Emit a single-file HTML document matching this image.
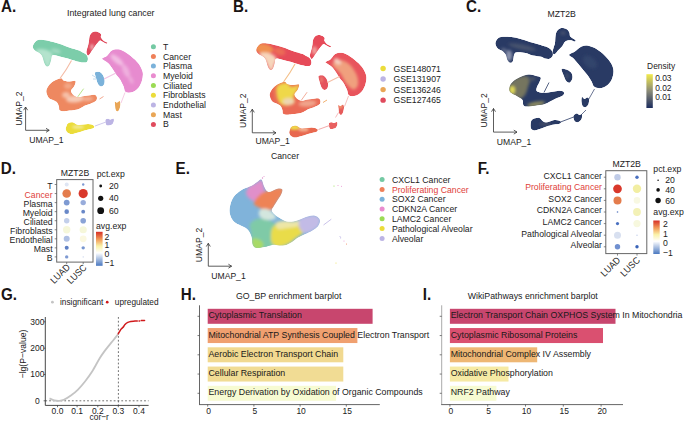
<!DOCTYPE html><html><head><meta charset="utf-8"><style>html,body{margin:0;padding:0;background:#fff;width:685px;height:421px;overflow:hidden}svg{display:block;font-family:"Liberation Sans",sans-serif}</style></head><body>
<svg width="685" height="421" viewBox="0 0 685 421">
<rect width="685" height="421" fill="#fff"/>
<defs><filter id="blur0_5" x="-50%" y="-50%" width="200%" height="200%"><feGaussianBlur stdDeviation="0.5"/></filter><filter id="blur0_8" x="-50%" y="-50%" width="200%" height="200%"><feGaussianBlur stdDeviation="0.8"/></filter><filter id="blur1" x="-50%" y="-50%" width="200%" height="200%"><feGaussianBlur stdDeviation="1"/></filter><filter id="blur1_2" x="-50%" y="-50%" width="200%" height="200%"><feGaussianBlur stdDeviation="1.2"/></filter><filter id="blur1_5" x="-50%" y="-50%" width="200%" height="200%"><feGaussianBlur stdDeviation="1.5"/></filter><filter id="blur1_8" x="-50%" y="-50%" width="200%" height="200%"><feGaussianBlur stdDeviation="1.8"/></filter><filter id="blur2" x="-50%" y="-50%" width="200%" height="200%"><feGaussianBlur stdDeviation="2"/></filter><filter id="blur2_5" x="-50%" y="-50%" width="200%" height="200%"><feGaussianBlur stdDeviation="2.5"/></filter><filter id="blur3" x="-50%" y="-50%" width="200%" height="200%"><feGaussianBlur stdDeviation="3"/></filter></defs>
<text font-size="9.57" fill="#222" transform="translate(67,16.2) scale(0.92,1)">Integrated lung cancer</text>
<clipPath id="aT"><path d="M32.8,46.4 C33.0,44.8 34.6,41.8 36.4,40.7 C38.2,39.6 40.7,39.8 43.5,40.0 C46.3,40.2 50.3,41.2 53.3,42.0 C56.3,42.8 58.8,43.5 61.6,44.5 C64.4,45.5 67.2,46.8 70.0,47.8 C72.8,48.8 76.1,49.5 78.3,50.3 C80.5,51.1 81.9,52.0 83.3,52.8 C84.7,53.6 85.8,54.1 86.6,55.0 C87.4,55.9 87.8,57.3 87.9,58.3 C88.0,59.3 87.9,60.5 87.4,61.2 C86.9,61.9 86.4,62.5 84.9,62.6 C83.4,62.7 80.8,62.3 78.3,61.7 C75.8,61.1 72.8,60.0 70.0,59.2 C67.2,58.4 64.1,57.8 61.6,57.1 C59.1,56.4 56.6,55.5 55.0,55.2 C53.4,54.9 52.7,54.6 52.0,55.5 C51.3,56.4 51.5,58.8 51.0,60.5 C50.5,62.2 50.0,64.6 49.2,65.6 C48.4,66.6 47.2,66.8 46.4,66.3 C45.6,65.8 44.9,64.5 44.2,62.8 C43.5,61.1 42.9,57.6 42.1,56.0 C41.3,54.4 40.5,53.9 39.3,53.0 C38.1,52.1 36.1,51.7 35.0,50.6 C33.9,49.5 32.6,48.0 32.8,46.4Z" transform="translate(0,0)"/></clipPath>
<g clip-path="url(#aT)"><path d="M32.8,46.4 C33.0,44.8 34.6,41.8 36.4,40.7 C38.2,39.6 40.7,39.8 43.5,40.0 C46.3,40.2 50.3,41.2 53.3,42.0 C56.3,42.8 58.8,43.5 61.6,44.5 C64.4,45.5 67.2,46.8 70.0,47.8 C72.8,48.8 76.1,49.5 78.3,50.3 C80.5,51.1 81.9,52.0 83.3,52.8 C84.7,53.6 85.8,54.1 86.6,55.0 C87.4,55.9 87.8,57.3 87.9,58.3 C88.0,59.3 87.9,60.5 87.4,61.2 C86.9,61.9 86.4,62.5 84.9,62.6 C83.4,62.7 80.8,62.3 78.3,61.7 C75.8,61.1 72.8,60.0 70.0,59.2 C67.2,58.4 64.1,57.8 61.6,57.1 C59.1,56.4 56.6,55.5 55.0,55.2 C53.4,54.9 52.7,54.6 52.0,55.5 C51.3,56.4 51.5,58.8 51.0,60.5 C50.5,62.2 50.0,64.6 49.2,65.6 C48.4,66.6 47.2,66.8 46.4,66.3 C45.6,65.8 44.9,64.5 44.2,62.8 C43.5,61.1 42.9,57.6 42.1,56.0 C41.3,54.4 40.5,53.9 39.3,53.0 C38.1,52.1 36.1,51.7 35.0,50.6 C33.9,49.5 32.6,48.0 32.8,46.4Z" transform="translate(0,0)" fill="#7ccdaa"/>
<g filter="url(#blur1_5)" transform="translate(0,0)">
<path d="M36.0,50.0 C36.8,49.4 40.0,48.9 42.0,49.0 C44.0,49.1 46.3,49.8 48.0,50.5 C49.7,51.2 51.2,52.4 52.0,53.5 C52.8,54.6 53.2,55.8 53.0,57.0 C52.8,58.2 51.6,59.5 51.0,61.0 C50.4,62.5 50.2,65.0 49.5,66.0 C48.8,67.0 47.4,67.7 46.5,67.0 C45.6,66.3 44.9,63.8 44.0,62.0 C43.1,60.2 42.2,57.6 41.0,56.0 C39.8,54.4 37.8,53.5 37.0,52.5 C36.2,51.5 35.2,50.6 36.0,50.0Z" fill="#b4e3cd"/>
<ellipse cx="56" cy="51" rx="5" ry="2" fill="#a4dac2" transform="rotate(15 56 51)"/>
</g>
</g>
<clipPath id="aB"><path d="M91.3,33.3 C92.2,32.5 93.5,31.7 94.8,31.6 C96.1,31.5 98.0,32.1 99.1,32.6 C100.2,33.1 100.9,34.0 101.2,34.8 C101.5,35.6 100.5,36.3 100.9,37.3 C101.3,38.2 102.3,39.6 103.4,40.5 C104.5,41.4 106.8,42.1 107.3,42.6 C107.8,43.1 107.2,43.8 106.6,43.7 C105.9,43.7 104.5,42.8 103.4,42.3 C102.3,41.8 101.1,40.5 100.2,40.5 C99.3,40.5 98.8,41.6 98.0,42.5 C97.2,43.4 96.2,44.7 95.2,46.0 C94.2,47.3 93.1,48.9 92.0,50.5 C90.9,52.1 89.4,55.1 88.5,55.5 C87.6,55.9 86.8,54.1 86.5,53.0 C86.2,51.9 86.7,50.3 87.0,49.0 C87.3,47.7 87.9,46.4 88.2,45.0 C88.5,43.6 88.8,42.2 89.0,40.8 C89.2,39.4 89.1,37.9 89.5,36.6 C89.9,35.4 90.4,34.1 91.3,33.3Z" transform="translate(0,0)"/></clipPath>
<g clip-path="url(#aB)"><path d="M91.3,33.3 C92.2,32.5 93.5,31.7 94.8,31.6 C96.1,31.5 98.0,32.1 99.1,32.6 C100.2,33.1 100.9,34.0 101.2,34.8 C101.5,35.6 100.5,36.3 100.9,37.3 C101.3,38.2 102.3,39.6 103.4,40.5 C104.5,41.4 106.8,42.1 107.3,42.6 C107.8,43.1 107.2,43.8 106.6,43.7 C105.9,43.7 104.5,42.8 103.4,42.3 C102.3,41.8 101.1,40.5 100.2,40.5 C99.3,40.5 98.8,41.6 98.0,42.5 C97.2,43.4 96.2,44.7 95.2,46.0 C94.2,47.3 93.1,48.9 92.0,50.5 C90.9,52.1 89.4,55.1 88.5,55.5 C87.6,55.9 86.8,54.1 86.5,53.0 C86.2,51.9 86.7,50.3 87.0,49.0 C87.3,47.7 87.9,46.4 88.2,45.0 C88.5,43.6 88.8,42.2 89.0,40.8 C89.2,39.4 89.1,37.9 89.5,36.6 C89.9,35.4 90.4,34.1 91.3,33.3Z" transform="translate(0,0)" fill="#e04b5d"/>
<g filter="url(#blur1)" transform="translate(0,0)">
<ellipse cx="92" cy="47" rx="2" ry="3" fill="#ec98a0" transform="rotate(0 92 47)"/>
</g>
</g>
<clipPath id="aM"><path d="M102.1,58.5 C102.7,57.8 105.5,57.0 107.1,55.7 C108.6,54.4 109.7,51.8 111.4,50.7 C113.1,49.6 115.2,49.3 117.1,49.3 C119.0,49.3 120.4,49.5 122.8,50.7 C125.2,51.9 128.7,54.3 131.3,56.4 C133.9,58.5 136.6,60.9 138.5,63.5 C140.4,66.1 142.1,69.2 142.7,72.1 C143.3,74.9 142.7,78.0 142.0,80.6 C141.3,83.2 140.0,85.9 138.5,87.8 C137.0,89.7 135.0,91.3 132.8,92.0 C130.7,92.7 127.1,93.0 125.6,92.0 C124.0,91.0 124.5,88.4 123.5,86.3 C122.5,84.2 121.1,81.1 119.9,79.2 C118.7,77.3 117.6,76.6 116.4,74.9 C115.2,73.2 114.1,71.1 112.8,69.2 C111.5,67.3 110.0,65.0 108.5,63.5 C107.0,62.0 104.6,60.8 103.5,60.0 C102.4,59.2 101.5,59.2 102.1,58.5Z" transform="translate(0,0)"/></clipPath>
<g clip-path="url(#aM)"><path d="M102.1,58.5 C102.7,57.8 105.5,57.0 107.1,55.7 C108.6,54.4 109.7,51.8 111.4,50.7 C113.1,49.6 115.2,49.3 117.1,49.3 C119.0,49.3 120.4,49.5 122.8,50.7 C125.2,51.9 128.7,54.3 131.3,56.4 C133.9,58.5 136.6,60.9 138.5,63.5 C140.4,66.1 142.1,69.2 142.7,72.1 C143.3,74.9 142.7,78.0 142.0,80.6 C141.3,83.2 140.0,85.9 138.5,87.8 C137.0,89.7 135.0,91.3 132.8,92.0 C130.7,92.7 127.1,93.0 125.6,92.0 C124.0,91.0 124.5,88.4 123.5,86.3 C122.5,84.2 121.1,81.1 119.9,79.2 C118.7,77.3 117.6,76.6 116.4,74.9 C115.2,73.2 114.1,71.1 112.8,69.2 C111.5,67.3 110.0,65.0 108.5,63.5 C107.0,62.0 104.6,60.8 103.5,60.0 C102.4,59.2 101.5,59.2 102.1,58.5Z" transform="translate(0,0)" fill="#e78bcf"/>
<g filter="url(#blur1_5)" transform="translate(0,0)">
<ellipse cx="117" cy="60" rx="8" ry="3" fill="#f2bde3" transform="rotate(40 117 60)"/>
<ellipse cx="126" cy="71" rx="3" ry="7" fill="#efb0de" transform="rotate(-25 126 71)"/>
<ellipse cx="131" cy="80" rx="2" ry="4" fill="#eeaadb" transform="rotate(-25 131 80)"/>
</g>
</g>
<clipPath id="aP"><path d="M95.0,72.5 C95.5,71.5 97.8,71.5 99.0,71.8 C100.2,72.1 101.6,73.2 102.5,74.5 C103.4,75.8 104.2,77.8 104.5,79.5 C104.8,81.2 104.6,83.3 104.0,84.5 C103.4,85.7 102.0,86.6 101.0,86.5 C100.0,86.4 98.8,85.4 98.0,84.0 C97.2,82.6 96.5,79.9 96.0,78.0 C95.5,76.1 94.5,73.5 95.0,72.5Z" transform="translate(0,0)"/></clipPath>
<g clip-path="url(#aP)"><path d="M95.0,72.5 C95.5,71.5 97.8,71.5 99.0,71.8 C100.2,72.1 101.6,73.2 102.5,74.5 C103.4,75.8 104.2,77.8 104.5,79.5 C104.8,81.2 104.6,83.3 104.0,84.5 C103.4,85.7 102.0,86.6 101.0,86.5 C100.0,86.4 98.8,85.4 98.0,84.0 C97.2,82.6 96.5,79.9 96.0,78.0 C95.5,76.1 94.5,73.5 95.0,72.5Z" transform="translate(0,0)" fill="#7bb2da"/>
</g>
<clipPath id="aC"><path d="M46.3,92.0 C46.1,90.1 46.9,88.5 47.7,87.0 C48.5,85.5 49.9,83.9 51.3,82.7 C52.7,81.5 54.6,80.5 56.3,79.8 C58.0,79.0 60.1,78.1 61.3,78.2 C62.5,78.3 62.6,80.0 63.6,80.6 C64.6,81.1 66.2,81.4 67.5,81.5 C68.8,81.6 70.2,81.2 71.5,81.2 C72.8,81.2 75.1,80.4 75.6,81.2 C76.0,82.0 74.9,84.7 74.2,86.2 C73.5,87.7 71.7,89.0 71.2,90.0 C70.8,91.0 71.0,91.6 71.5,92.5 C72.0,93.4 72.9,94.7 74.0,95.5 C75.1,96.3 76.2,97.1 78.0,97.2 C79.8,97.3 82.3,96.3 84.6,95.9 C86.9,95.5 89.9,95.0 91.8,94.9 C93.7,94.8 94.8,94.7 95.7,95.2 C96.6,95.7 97.0,96.9 97.0,97.9 C97.0,98.9 96.8,100.1 95.7,101.1 C94.6,102.1 92.3,103.0 90.5,103.8 C88.7,104.6 86.3,104.9 84.6,105.7 C82.8,106.5 81.7,107.7 80.0,108.4 C78.3,109.1 76.7,109.6 74.7,110.0 C72.7,110.4 70.0,110.5 68.1,110.7 C66.2,110.9 64.9,111.4 63.5,111.3 C62.1,111.2 60.4,111.1 59.6,110.3 C58.8,109.5 59.3,107.7 58.9,106.4 C58.5,105.1 57.8,103.5 57.0,102.5 C56.2,101.5 55.3,101.2 54.0,100.5 C52.7,99.8 50.4,99.7 49.1,98.3 C47.8,96.9 46.5,93.9 46.3,92.0Z" transform="translate(0,0)"/></clipPath>
<g clip-path="url(#aC)"><path d="M46.3,92.0 C46.1,90.1 46.9,88.5 47.7,87.0 C48.5,85.5 49.9,83.9 51.3,82.7 C52.7,81.5 54.6,80.5 56.3,79.8 C58.0,79.0 60.1,78.1 61.3,78.2 C62.5,78.3 62.6,80.0 63.6,80.6 C64.6,81.1 66.2,81.4 67.5,81.5 C68.8,81.6 70.2,81.2 71.5,81.2 C72.8,81.2 75.1,80.4 75.6,81.2 C76.0,82.0 74.9,84.7 74.2,86.2 C73.5,87.7 71.7,89.0 71.2,90.0 C70.8,91.0 71.0,91.6 71.5,92.5 C72.0,93.4 72.9,94.7 74.0,95.5 C75.1,96.3 76.2,97.1 78.0,97.2 C79.8,97.3 82.3,96.3 84.6,95.9 C86.9,95.5 89.9,95.0 91.8,94.9 C93.7,94.8 94.8,94.7 95.7,95.2 C96.6,95.7 97.0,96.9 97.0,97.9 C97.0,98.9 96.8,100.1 95.7,101.1 C94.6,102.1 92.3,103.0 90.5,103.8 C88.7,104.6 86.3,104.9 84.6,105.7 C82.8,106.5 81.7,107.7 80.0,108.4 C78.3,109.1 76.7,109.6 74.7,110.0 C72.7,110.4 70.0,110.5 68.1,110.7 C66.2,110.9 64.9,111.4 63.5,111.3 C62.1,111.2 60.4,111.1 59.6,110.3 C58.8,109.5 59.3,107.7 58.9,106.4 C58.5,105.1 57.8,103.5 57.0,102.5 C56.2,101.5 55.3,101.2 54.0,100.5 C52.7,99.8 50.4,99.7 49.1,98.3 C47.8,96.9 46.5,93.9 46.3,92.0Z" transform="translate(0,0)" fill="#ee8860"/>
<g filter="url(#blur1_5)" transform="translate(0,0)">
<ellipse cx="75" cy="99" rx="9" ry="3.5" fill="#f7cbb6" transform="rotate(-5 75 99)"/>
<ellipse cx="66" cy="95" rx="4" ry="3" fill="#f6c0a8" transform="rotate(0 66 95)"/>
<ellipse cx="68" cy="86" rx="4" ry="3" fill="#f3a888" transform="rotate(0 68 86)"/>
<ellipse cx="88" cy="99" rx="5" ry="2" fill="#f4b49a" transform="rotate(-5 88 99)"/>
</g>
</g>
<clipPath id="aF"><path d="M66.6,125.7 C67.0,124.7 67.1,123.8 68.2,123.2 C69.3,122.7 71.5,122.1 73.2,122.4 C74.9,122.7 75.7,124.6 78.2,124.9 C80.7,125.2 85.6,123.9 88.2,124.0 C90.8,124.1 93.2,125.0 94.0,125.7 C94.8,126.4 94.5,127.5 93.2,128.2 C92.0,128.9 89.0,129.2 86.5,129.9 C84.0,130.6 80.7,131.7 78.2,132.4 C75.7,133.1 73.4,134.0 71.6,134.0 C69.8,134.0 68.4,133.2 67.4,132.4 C66.4,131.6 65.8,130.1 65.7,129.0 C65.6,127.9 66.2,126.7 66.6,125.7Z" transform="translate(0,0)"/></clipPath>
<g clip-path="url(#aF)"><path d="M66.6,125.7 C67.0,124.7 67.1,123.8 68.2,123.2 C69.3,122.7 71.5,122.1 73.2,122.4 C74.9,122.7 75.7,124.6 78.2,124.9 C80.7,125.2 85.6,123.9 88.2,124.0 C90.8,124.1 93.2,125.0 94.0,125.7 C94.8,126.4 94.5,127.5 93.2,128.2 C92.0,128.9 89.0,129.2 86.5,129.9 C84.0,130.6 80.7,131.7 78.2,132.4 C75.7,133.1 73.4,134.0 71.6,134.0 C69.8,134.0 68.4,133.2 67.4,132.4 C66.4,131.6 65.8,130.1 65.7,129.0 C65.6,127.9 66.2,126.7 66.6,125.7Z" transform="translate(0,0)" fill="#ebdc3a"/>
<g filter="url(#blur1)" transform="translate(0,0)">
<ellipse cx="78" cy="127" rx="6" ry="2" fill="#f2e888" transform="rotate(0 78 127)"/>
</g>
</g>
<clipPath id="aMa"><path d="M114.8,101.5 C115.1,101.1 116.2,102.6 117.0,102.5 C117.8,102.4 118.9,100.8 119.5,101.0 C120.1,101.2 120.5,102.7 120.5,104.0 C120.5,105.3 120.0,107.8 119.5,109.0 C119.0,110.2 118.2,111.4 117.5,111.5 C116.8,111.6 115.9,110.6 115.5,109.5 C115.1,108.4 115.1,106.3 115.0,105.0 C114.9,103.7 114.5,101.9 114.8,101.5Z" transform="translate(0,0)"/></clipPath>
<g clip-path="url(#aMa)"><path d="M114.8,101.5 C115.1,101.1 116.2,102.6 117.0,102.5 C117.8,102.4 118.9,100.8 119.5,101.0 C120.1,101.2 120.5,102.7 120.5,104.0 C120.5,105.3 120.0,107.8 119.5,109.0 C119.0,110.2 118.2,111.4 117.5,111.5 C116.8,111.6 115.9,110.6 115.5,109.5 C115.1,108.4 115.1,106.3 115.0,105.0 C114.9,103.7 114.5,101.9 114.8,101.5Z" transform="translate(0,0)" fill="#e9a656"/>
</g>
<clipPath id="aE"><path d="M105.4,120.0 C105.7,119.0 107.2,118.9 108.0,118.8 C108.8,118.7 109.1,119.5 110.0,119.5 C110.9,119.5 112.9,118.2 113.5,118.5 C114.1,118.8 114.0,120.5 113.8,121.5 C113.5,122.5 113.0,123.8 112.0,124.5 C111.0,125.2 109.0,125.6 108.0,125.6 C107.0,125.6 106.4,125.4 106.0,124.5 C105.6,123.6 105.1,121.0 105.4,120.0Z" transform="translate(0,0)"/></clipPath>
<g clip-path="url(#aE)"><path d="M105.4,120.0 C105.7,119.0 107.2,118.9 108.0,118.8 C108.8,118.7 109.1,119.5 110.0,119.5 C110.9,119.5 112.9,118.2 113.5,118.5 C114.1,118.8 114.0,120.5 113.8,121.5 C113.5,122.5 113.0,123.8 112.0,124.5 C111.0,125.2 109.0,125.6 108.0,125.6 C107.0,125.6 106.4,125.4 106.0,124.5 C105.6,123.6 105.1,121.0 105.4,120.0Z" transform="translate(0,0)" fill="#bcb4e4"/>
</g>
<g filter="url(#blur0_5)">
<path d="M71.5,60.5 Q67,69 60,78.5" stroke="#f4bca6" stroke-width="1.1" fill="none"/>
<path d="M77.7,96.9 L83.6,88.7" stroke="#a6dc6c" stroke-width="0.8" fill="none"/>
<path d="M125,92.5 L121,103" stroke="#f0b8d8" stroke-width="0.7" fill="none"/>
<path d="M106,122 L95,126" stroke="#cfc9ec" stroke-width="1" fill="none"/>
<path d="M92,75 L96,77.5 M93,79 L96,79" stroke="#b0d0ea" stroke-width="0.8" fill="none"/>
<path d="M104,79 Q110,76 116,73" stroke="#f2c4e4" stroke-width="1.2" fill="none"/>
<path d="M99.5,99 L103.5,96.5" stroke="#f2a890" stroke-width="1" fill="none"/>
</g>
<path d="M25.6,107 V130.3 H49.2" fill="none" stroke="#333" stroke-width="0.8"/>
<path d="M23.6,110.2 L25.6,107 L27.6,110.2" fill="none" stroke="#333" stroke-width="0.8"/>
<path d="M46.0,128.3 L49.2,130.3 L46.0,132.3" fill="none" stroke="#333" stroke-width="0.8"/>
<text font-size="9.35" fill="#222" text-anchor="middle" transform="translate(21.5,108.65) rotate(-90) scale(0.92,1)">UMAP_2</text>
<text font-size="9.35" fill="#222" transform="translate(29.2,142.5) scale(0.92,1)">UMAP_1</text>
<circle cx="153.4" cy="46.7" r="2.5" fill="#74c9a3"/>
<text font-size="9.46" fill="#222" transform="translate(163,49.800000000000004) scale(0.92,1)">T</text>
<circle cx="153.4" cy="56.410000000000004" r="2.5" fill="#ef8059"/>
<text font-size="9.46" fill="#222" transform="translate(163,59.510000000000005) scale(0.92,1)">Cancer</text>
<circle cx="153.4" cy="66.12" r="2.5" fill="#7bb2da"/>
<text font-size="9.46" fill="#222" transform="translate(163,69.22) scale(0.92,1)">Plasma</text>
<circle cx="153.4" cy="75.83000000000001" r="2.5" fill="#e98ccf"/>
<text font-size="9.46" fill="#222" transform="translate(163,78.93) scale(0.92,1)">Myeloid</text>
<circle cx="153.4" cy="85.54" r="2.5" fill="#9bdb54"/>
<text font-size="9.46" fill="#222" transform="translate(163,88.64) scale(0.92,1)">Ciliated</text>
<circle cx="153.4" cy="95.25" r="2.5" fill="#ebdc3a"/>
<text font-size="9.46" fill="#222" transform="translate(163,98.35) scale(0.92,1)">Fibroblasts</text>
<circle cx="153.4" cy="104.96000000000001" r="2.5" fill="#bcb4e4"/>
<text font-size="9.46" fill="#222" transform="translate(163,108.06) scale(0.92,1)">Endothelial</text>
<circle cx="153.4" cy="114.67" r="2.5" fill="#e9a656"/>
<text font-size="9.46" fill="#222" transform="translate(163,117.77) scale(0.92,1)">Mast</text>
<circle cx="153.4" cy="124.38000000000001" r="2.5" fill="#e04b5d"/>
<text font-size="9.46" fill="#222" transform="translate(163,127.48) scale(0.92,1)">B</text>
<clipPath id="bT"><path d="M32.8,46.4 C33.0,44.8 34.6,41.8 36.4,40.7 C38.2,39.6 40.7,39.8 43.5,40.0 C46.3,40.2 50.3,41.2 53.3,42.0 C56.3,42.8 58.8,43.5 61.6,44.5 C64.4,45.5 67.2,46.8 70.0,47.8 C72.8,48.8 76.1,49.5 78.3,50.3 C80.5,51.1 81.9,52.0 83.3,52.8 C84.7,53.6 85.8,54.1 86.6,55.0 C87.4,55.9 87.8,57.3 87.9,58.3 C88.0,59.3 87.9,60.5 87.4,61.2 C86.9,61.9 86.4,62.5 84.9,62.6 C83.4,62.7 80.8,62.3 78.3,61.7 C75.8,61.1 72.8,60.0 70.0,59.2 C67.2,58.4 64.1,57.8 61.6,57.1 C59.1,56.4 56.6,55.5 55.0,55.2 C53.4,54.9 52.7,54.6 52.0,55.5 C51.3,56.4 51.5,58.8 51.0,60.5 C50.5,62.2 50.0,64.6 49.2,65.6 C48.4,66.6 47.2,66.8 46.4,66.3 C45.6,65.8 44.9,64.5 44.2,62.8 C43.5,61.1 42.9,57.6 42.1,56.0 C41.3,54.4 40.5,53.9 39.3,53.0 C38.1,52.1 36.1,51.7 35.0,50.6 C33.9,49.5 32.6,48.0 32.8,46.4Z" transform="translate(223.5,3.5)"/></clipPath>
<g clip-path="url(#bT)"><path d="M32.8,46.4 C33.0,44.8 34.6,41.8 36.4,40.7 C38.2,39.6 40.7,39.8 43.5,40.0 C46.3,40.2 50.3,41.2 53.3,42.0 C56.3,42.8 58.8,43.5 61.6,44.5 C64.4,45.5 67.2,46.8 70.0,47.8 C72.8,48.8 76.1,49.5 78.3,50.3 C80.5,51.1 81.9,52.0 83.3,52.8 C84.7,53.6 85.8,54.1 86.6,55.0 C87.4,55.9 87.8,57.3 87.9,58.3 C88.0,59.3 87.9,60.5 87.4,61.2 C86.9,61.9 86.4,62.5 84.9,62.6 C83.4,62.7 80.8,62.3 78.3,61.7 C75.8,61.1 72.8,60.0 70.0,59.2 C67.2,58.4 64.1,57.8 61.6,57.1 C59.1,56.4 56.6,55.5 55.0,55.2 C53.4,54.9 52.7,54.6 52.0,55.5 C51.3,56.4 51.5,58.8 51.0,60.5 C50.5,62.2 50.0,64.6 49.2,65.6 C48.4,66.6 47.2,66.8 46.4,66.3 C45.6,65.8 44.9,64.5 44.2,62.8 C43.5,61.1 42.9,57.6 42.1,56.0 C41.3,54.4 40.5,53.9 39.3,53.0 C38.1,52.1 36.1,51.7 35.0,50.6 C33.9,49.5 32.6,48.0 32.8,46.4Z" transform="translate(223.5,3.5)" fill="#e64b59"/>
<g filter="url(#blur1_5)" transform="translate(223.5,3.5)">
<ellipse cx="40" cy="45" rx="10" ry="5" fill="#f0904f" transform="rotate(10 40 45)"/>
<path d="M36.0,50.0 C36.8,49.4 40.0,48.9 42.0,49.0 C44.0,49.1 46.3,49.8 48.0,50.5 C49.7,51.2 51.2,52.4 52.0,53.5 C52.8,54.6 53.2,55.8 53.0,57.0 C52.8,58.2 51.6,59.5 51.0,61.0 C50.4,62.5 50.2,65.0 49.5,66.0 C48.8,67.0 47.4,67.7 46.5,67.0 C45.6,66.3 44.9,63.8 44.0,62.0 C43.1,60.2 42.2,57.6 41.0,56.0 C39.8,54.4 37.8,53.5 37.0,52.5 C36.2,51.5 35.2,50.6 36.0,50.0Z" fill="#f6d6bc"/>
<ellipse cx="56" cy="48" rx="6" ry="3.5" fill="#ec6c56" transform="rotate(15 56 48)"/>
</g>
</g>
<clipPath id="bB"><path d="M91.3,33.3 C92.2,32.5 93.5,31.7 94.8,31.6 C96.1,31.5 98.0,32.1 99.1,32.6 C100.2,33.1 100.9,34.0 101.2,34.8 C101.5,35.6 100.5,36.3 100.9,37.3 C101.3,38.2 102.3,39.6 103.4,40.5 C104.5,41.4 106.8,42.1 107.3,42.6 C107.8,43.1 107.2,43.8 106.6,43.7 C105.9,43.7 104.5,42.8 103.4,42.3 C102.3,41.8 101.1,40.5 100.2,40.5 C99.3,40.5 98.8,41.6 98.0,42.5 C97.2,43.4 96.2,44.7 95.2,46.0 C94.2,47.3 93.1,48.9 92.0,50.5 C90.9,52.1 89.4,55.1 88.5,55.5 C87.6,55.9 86.8,54.1 86.5,53.0 C86.2,51.9 86.7,50.3 87.0,49.0 C87.3,47.7 87.9,46.4 88.2,45.0 C88.5,43.6 88.8,42.2 89.0,40.8 C89.2,39.4 89.1,37.9 89.5,36.6 C89.9,35.4 90.4,34.1 91.3,33.3Z" transform="translate(223.5,3.5)"/></clipPath>
<g clip-path="url(#bB)"><path d="M91.3,33.3 C92.2,32.5 93.5,31.7 94.8,31.6 C96.1,31.5 98.0,32.1 99.1,32.6 C100.2,33.1 100.9,34.0 101.2,34.8 C101.5,35.6 100.5,36.3 100.9,37.3 C101.3,38.2 102.3,39.6 103.4,40.5 C104.5,41.4 106.8,42.1 107.3,42.6 C107.8,43.1 107.2,43.8 106.6,43.7 C105.9,43.7 104.5,42.8 103.4,42.3 C102.3,41.8 101.1,40.5 100.2,40.5 C99.3,40.5 98.8,41.6 98.0,42.5 C97.2,43.4 96.2,44.7 95.2,46.0 C94.2,47.3 93.1,48.9 92.0,50.5 C90.9,52.1 89.4,55.1 88.5,55.5 C87.6,55.9 86.8,54.1 86.5,53.0 C86.2,51.9 86.7,50.3 87.0,49.0 C87.3,47.7 87.9,46.4 88.2,45.0 C88.5,43.6 88.8,42.2 89.0,40.8 C89.2,39.4 89.1,37.9 89.5,36.6 C89.9,35.4 90.4,34.1 91.3,33.3Z" transform="translate(223.5,3.5)" fill="#e64b59"/>
<g filter="url(#blur1_5)" transform="translate(223.5,3.5)">
<ellipse cx="91" cy="47" rx="2.5" ry="4" fill="#f2a4a0" transform="rotate(0 91 47)"/>
</g>
</g>
<clipPath id="bM"><path d="M102.1,58.5 C102.7,57.8 105.5,57.0 107.1,55.7 C108.6,54.4 109.7,51.8 111.4,50.7 C113.1,49.6 115.2,49.3 117.1,49.3 C119.0,49.3 120.4,49.5 122.8,50.7 C125.2,51.9 128.7,54.3 131.3,56.4 C133.9,58.5 136.6,60.9 138.5,63.5 C140.4,66.1 142.1,69.2 142.7,72.1 C143.3,74.9 142.7,78.0 142.0,80.6 C141.3,83.2 140.0,85.9 138.5,87.8 C137.0,89.7 135.0,91.3 132.8,92.0 C130.7,92.7 127.1,93.0 125.6,92.0 C124.0,91.0 124.5,88.4 123.5,86.3 C122.5,84.2 121.1,81.1 119.9,79.2 C118.7,77.3 117.6,76.6 116.4,74.9 C115.2,73.2 114.1,71.1 112.8,69.2 C111.5,67.3 110.0,65.0 108.5,63.5 C107.0,62.0 104.6,60.8 103.5,60.0 C102.4,59.2 101.5,59.2 102.1,58.5Z" transform="translate(223.5,3.5)"/></clipPath>
<g clip-path="url(#bM)"><path d="M102.1,58.5 C102.7,57.8 105.5,57.0 107.1,55.7 C108.6,54.4 109.7,51.8 111.4,50.7 C113.1,49.6 115.2,49.3 117.1,49.3 C119.0,49.3 120.4,49.5 122.8,50.7 C125.2,51.9 128.7,54.3 131.3,56.4 C133.9,58.5 136.6,60.9 138.5,63.5 C140.4,66.1 142.1,69.2 142.7,72.1 C143.3,74.9 142.7,78.0 142.0,80.6 C141.3,83.2 140.0,85.9 138.5,87.8 C137.0,89.7 135.0,91.3 132.8,92.0 C130.7,92.7 127.1,93.0 125.6,92.0 C124.0,91.0 124.5,88.4 123.5,86.3 C122.5,84.2 121.1,81.1 119.9,79.2 C118.7,77.3 117.6,76.6 116.4,74.9 C115.2,73.2 114.1,71.1 112.8,69.2 C111.5,67.3 110.0,65.0 108.5,63.5 C107.0,62.0 104.6,60.8 103.5,60.0 C102.4,59.2 101.5,59.2 102.1,58.5Z" transform="translate(223.5,3.5)" fill="#e8545c"/>
<g filter="url(#blur1_8)" transform="translate(223.5,3.5)">
<path d="M109.0,60.0 C110.0,58.8 114.2,56.3 117.0,56.5 C119.8,56.7 123.3,58.6 126.0,61.0 C128.7,63.4 131.6,67.7 133.0,71.0 C134.4,74.3 135.0,78.5 134.5,81.0 C134.0,83.5 131.9,86.2 130.0,86.0 C128.1,85.8 125.2,82.7 123.0,80.0 C120.8,77.3 119.0,72.7 117.0,70.0 C115.0,67.3 112.3,65.7 111.0,64.0 C109.7,62.3 108.0,61.2 109.0,60.0Z" fill="#f0a07e"/>
<ellipse cx="114" cy="58" rx="4" ry="2.5" fill="#f6d0c0" transform="rotate(35 114 58)"/>
</g>
</g>
<clipPath id="bP"><path d="M95.0,72.5 C95.5,71.5 97.8,71.5 99.0,71.8 C100.2,72.1 101.6,73.2 102.5,74.5 C103.4,75.8 104.2,77.8 104.5,79.5 C104.8,81.2 104.6,83.3 104.0,84.5 C103.4,85.7 102.0,86.6 101.0,86.5 C100.0,86.4 98.8,85.4 98.0,84.0 C97.2,82.6 96.5,79.9 96.0,78.0 C95.5,76.1 94.5,73.5 95.0,72.5Z" transform="translate(223.5,3.5)"/></clipPath>
<g clip-path="url(#bP)"><path d="M95.0,72.5 C95.5,71.5 97.8,71.5 99.0,71.8 C100.2,72.1 101.6,73.2 102.5,74.5 C103.4,75.8 104.2,77.8 104.5,79.5 C104.8,81.2 104.6,83.3 104.0,84.5 C103.4,85.7 102.0,86.6 101.0,86.5 C100.0,86.4 98.8,85.4 98.0,84.0 C97.2,82.6 96.5,79.9 96.0,78.0 C95.5,76.1 94.5,73.5 95.0,72.5Z" transform="translate(223.5,3.5)" fill="#e5535d"/>
<g filter="url(#blur1)" transform="translate(223.5,3.5)">
<ellipse cx="98" cy="76" rx="1.5" ry="3" fill="#ec7a70" transform="rotate(0 98 76)"/>
</g>
</g>
<clipPath id="bC"><path d="M46.3,92.0 C46.1,90.1 46.9,88.5 47.7,87.0 C48.5,85.5 49.9,83.9 51.3,82.7 C52.7,81.5 54.6,80.5 56.3,79.8 C58.0,79.0 60.1,78.1 61.3,78.2 C62.5,78.3 62.6,80.0 63.6,80.6 C64.6,81.1 66.2,81.4 67.5,81.5 C68.8,81.6 70.2,81.2 71.5,81.2 C72.8,81.2 75.1,80.4 75.6,81.2 C76.0,82.0 74.9,84.7 74.2,86.2 C73.5,87.7 71.7,89.0 71.2,90.0 C70.8,91.0 71.0,91.6 71.5,92.5 C72.0,93.4 72.9,94.7 74.0,95.5 C75.1,96.3 76.2,97.1 78.0,97.2 C79.8,97.3 82.3,96.3 84.6,95.9 C86.9,95.5 89.9,95.0 91.8,94.9 C93.7,94.8 94.8,94.7 95.7,95.2 C96.6,95.7 97.0,96.9 97.0,97.9 C97.0,98.9 96.8,100.1 95.7,101.1 C94.6,102.1 92.3,103.0 90.5,103.8 C88.7,104.6 86.3,104.9 84.6,105.7 C82.8,106.5 81.7,107.7 80.0,108.4 C78.3,109.1 76.7,109.6 74.7,110.0 C72.7,110.4 70.0,110.5 68.1,110.7 C66.2,110.9 64.9,111.4 63.5,111.3 C62.1,111.2 60.4,111.1 59.6,110.3 C58.8,109.5 59.3,107.7 58.9,106.4 C58.5,105.1 57.8,103.5 57.0,102.5 C56.2,101.5 55.3,101.2 54.0,100.5 C52.7,99.8 50.4,99.7 49.1,98.3 C47.8,96.9 46.5,93.9 46.3,92.0Z" transform="translate(223.5,3.5)"/></clipPath>
<g clip-path="url(#bC)"><path d="M46.3,92.0 C46.1,90.1 46.9,88.5 47.7,87.0 C48.5,85.5 49.9,83.9 51.3,82.7 C52.7,81.5 54.6,80.5 56.3,79.8 C58.0,79.0 60.1,78.1 61.3,78.2 C62.5,78.3 62.6,80.0 63.6,80.6 C64.6,81.1 66.2,81.4 67.5,81.5 C68.8,81.6 70.2,81.2 71.5,81.2 C72.8,81.2 75.1,80.4 75.6,81.2 C76.0,82.0 74.9,84.7 74.2,86.2 C73.5,87.7 71.7,89.0 71.2,90.0 C70.8,91.0 71.0,91.6 71.5,92.5 C72.0,93.4 72.9,94.7 74.0,95.5 C75.1,96.3 76.2,97.1 78.0,97.2 C79.8,97.3 82.3,96.3 84.6,95.9 C86.9,95.5 89.9,95.0 91.8,94.9 C93.7,94.8 94.8,94.7 95.7,95.2 C96.6,95.7 97.0,96.9 97.0,97.9 C97.0,98.9 96.8,100.1 95.7,101.1 C94.6,102.1 92.3,103.0 90.5,103.8 C88.7,104.6 86.3,104.9 84.6,105.7 C82.8,106.5 81.7,107.7 80.0,108.4 C78.3,109.1 76.7,109.6 74.7,110.0 C72.7,110.4 70.0,110.5 68.1,110.7 C66.2,110.9 64.9,111.4 63.5,111.3 C62.1,111.2 60.4,111.1 59.6,110.3 C58.8,109.5 59.3,107.7 58.9,106.4 C58.5,105.1 57.8,103.5 57.0,102.5 C56.2,101.5 55.3,101.2 54.0,100.5 C52.7,99.8 50.4,99.7 49.1,98.3 C47.8,96.9 46.5,93.9 46.3,92.0Z" transform="translate(223.5,3.5)" fill="#ea6a55"/>
<g filter="url(#blur1_5)" transform="translate(223.5,3.5)">
<path d="M53.0,84.0 C53.7,81.5 56.2,80.8 58.0,80.0 C59.8,79.2 62.5,79.0 64.0,79.5 C65.5,80.0 65.7,82.5 67.0,83.0 C68.3,83.5 70.5,82.8 72.0,82.5 C73.5,82.2 75.8,80.6 76.0,81.5 C76.2,82.4 74.0,86.1 73.0,88.0 C72.0,89.9 70.3,91.2 70.0,93.0 C69.7,94.8 71.8,97.5 71.0,99.0 C70.2,100.5 67.2,101.7 65.0,102.0 C62.8,102.3 59.8,102.2 58.0,101.0 C56.2,99.8 54.8,97.8 54.0,95.0 C53.2,92.2 52.3,86.5 53.0,84.0Z" fill="#efd84a"/>
<ellipse cx="65" cy="98" rx="6" ry="3.5" fill="#edd6b4" transform="rotate(0 65 98)"/>
<ellipse cx="84" cy="100" rx="9" ry="3.2" fill="#f0a48c" transform="rotate(-5 84 100)"/>
<ellipse cx="47.5" cy="93" rx="1.5" ry="5" fill="#e65a4e" transform="rotate(0 47.5 93)"/>
</g>
</g>
<clipPath id="bF"><path d="M66.6,125.7 C67.0,124.7 67.1,123.8 68.2,123.2 C69.3,122.7 71.5,122.1 73.2,122.4 C74.9,122.7 75.7,124.6 78.2,124.9 C80.7,125.2 85.6,123.9 88.2,124.0 C90.8,124.1 93.2,125.0 94.0,125.7 C94.8,126.4 94.5,127.5 93.2,128.2 C92.0,128.9 89.0,129.2 86.5,129.9 C84.0,130.6 80.7,131.7 78.2,132.4 C75.7,133.1 73.4,134.0 71.6,134.0 C69.8,134.0 68.4,133.2 67.4,132.4 C66.4,131.6 65.8,130.1 65.7,129.0 C65.6,127.9 66.2,126.7 66.6,125.7Z" transform="translate(223.5,3.5)"/></clipPath>
<g clip-path="url(#bF)"><path d="M66.6,125.7 C67.0,124.7 67.1,123.8 68.2,123.2 C69.3,122.7 71.5,122.1 73.2,122.4 C74.9,122.7 75.7,124.6 78.2,124.9 C80.7,125.2 85.6,123.9 88.2,124.0 C90.8,124.1 93.2,125.0 94.0,125.7 C94.8,126.4 94.5,127.5 93.2,128.2 C92.0,128.9 89.0,129.2 86.5,129.9 C84.0,130.6 80.7,131.7 78.2,132.4 C75.7,133.1 73.4,134.0 71.6,134.0 C69.8,134.0 68.4,133.2 67.4,132.4 C66.4,131.6 65.8,130.1 65.7,129.0 C65.6,127.9 66.2,126.7 66.6,125.7Z" transform="translate(223.5,3.5)" fill="#e8684f"/>
<g filter="url(#blur1_2)" transform="translate(223.5,3.5)">
<ellipse cx="71" cy="124" rx="5" ry="2.5" fill="#eed848" transform="rotate(0 71 124)"/>
<ellipse cx="80" cy="126" rx="5" ry="2" fill="#f3b090" transform="rotate(0 80 126)"/>
</g>
</g>
<clipPath id="bMa"><path d="M114.8,101.5 C115.1,101.1 116.2,102.6 117.0,102.5 C117.8,102.4 118.9,100.8 119.5,101.0 C120.1,101.2 120.5,102.7 120.5,104.0 C120.5,105.3 120.0,107.8 119.5,109.0 C119.0,110.2 118.2,111.4 117.5,111.5 C116.8,111.6 115.9,110.6 115.5,109.5 C115.1,108.4 115.1,106.3 115.0,105.0 C114.9,103.7 114.5,101.9 114.8,101.5Z" transform="translate(223.5,3.5)"/></clipPath>
<g clip-path="url(#bMa)"><path d="M114.8,101.5 C115.1,101.1 116.2,102.6 117.0,102.5 C117.8,102.4 118.9,100.8 119.5,101.0 C120.1,101.2 120.5,102.7 120.5,104.0 C120.5,105.3 120.0,107.8 119.5,109.0 C119.0,110.2 118.2,111.4 117.5,111.5 C116.8,111.6 115.9,110.6 115.5,109.5 C115.1,108.4 115.1,106.3 115.0,105.0 C114.9,103.7 114.5,101.9 114.8,101.5Z" transform="translate(223.5,3.5)" fill="#e65a5a"/>
<g filter="url(#blur1)" transform="translate(223.5,3.5)">
<ellipse cx="117" cy="103" rx="2" ry="2" fill="#f2a070" transform="rotate(0 117 103)"/>
</g>
</g>
<clipPath id="bE"><path d="M105.4,120.0 C105.7,119.0 107.2,118.9 108.0,118.8 C108.8,118.7 109.1,119.5 110.0,119.5 C110.9,119.5 112.9,118.2 113.5,118.5 C114.1,118.8 114.0,120.5 113.8,121.5 C113.5,122.5 113.0,123.8 112.0,124.5 C111.0,125.2 109.0,125.6 108.0,125.6 C107.0,125.6 106.4,125.4 106.0,124.5 C105.6,123.6 105.1,121.0 105.4,120.0Z" transform="translate(223.5,3.5)"/></clipPath>
<g clip-path="url(#bE)"><path d="M105.4,120.0 C105.7,119.0 107.2,118.9 108.0,118.8 C108.8,118.7 109.1,119.5 110.0,119.5 C110.9,119.5 112.9,118.2 113.5,118.5 C114.1,118.8 114.0,120.5 113.8,121.5 C113.5,122.5 113.0,123.8 112.0,124.5 C111.0,125.2 109.0,125.6 108.0,125.6 C107.0,125.6 106.4,125.4 106.0,124.5 C105.6,123.6 105.1,121.0 105.4,120.0Z" transform="translate(223.5,3.5)" fill="#e86060"/>
</g>
<g filter="url(#blur0_5)" transform="translate(223.5,3.5)">
<path d="M71.5,60.5 Q67,69 60,78.5" stroke="#f4c08a" stroke-width="1.1" fill="none"/>
<path d="M77.7,96.9 L83.6,88.7" stroke="#ee8a70" stroke-width="0.7" fill="none"/>
<path d="M125,92.5 L121,103" stroke="#f0a8a0" stroke-width="0.7" fill="none"/>
<path d="M106,122 L95,126" stroke="#f0a0a0" stroke-width="0.9" fill="none"/>
<path d="M104,79 Q110,76 116,73" stroke="#f4c0a8" stroke-width="1.1" fill="none"/>
<path d="M99.5,99 L103.5,96.5" stroke="#f0b070" stroke-width="1" fill="none"/>
<path d="M112,114 L115,109" stroke="#f0a0a0" stroke-width="0.7" fill="none"/>
</g>
<path d="M252.3,109.2 V132.8 H276" fill="none" stroke="#333" stroke-width="0.8"/>
<path d="M250.3,112.4 L252.3,109.2 L254.3,112.4" fill="none" stroke="#333" stroke-width="0.8"/>
<path d="M272.8,130.8 L276,132.8 L272.8,134.8" fill="none" stroke="#333" stroke-width="0.8"/>
<text font-size="9.35" fill="#222" text-anchor="middle" transform="translate(245.7,110.69999999999999) rotate(-90) scale(0.92,1)">UMAP_2</text>
<text font-size="9.35" fill="#222" transform="translate(255.5,144.3) scale(0.92,1)">UMAP_1</text>
<circle cx="383.1" cy="68.5" r="2.7" fill="#ebdc3a"/>
<text font-size="9.46" fill="#222" transform="translate(393.5,71.6) scale(0.92,1)">GSE148071</text>
<circle cx="383.1" cy="79.05" r="2.7" fill="#bcb4e4"/>
<text font-size="9.46" fill="#222" transform="translate(393.5,82.14999999999999) scale(0.92,1)">GSE131907</text>
<circle cx="383.1" cy="89.6" r="2.7" fill="#e9a656"/>
<text font-size="9.46" fill="#222" transform="translate(393.5,92.69999999999999) scale(0.92,1)">GSE136246</text>
<circle cx="383.1" cy="100.15" r="2.7" fill="#e04b5d"/>
<text font-size="9.46" fill="#222" transform="translate(393.5,103.25) scale(0.92,1)">GSE127465</text>
<text font-size="9.46" fill="#222" transform="translate(547.4,16.5) scale(0.92,1)">MZT2B</text>
<clipPath id="cT"><path d="M495.4,43.5 C495.4,41.8 496.6,39.6 497.8,38.5 C499.0,37.4 500.5,37.0 502.8,36.8 C505.1,36.6 508.3,36.7 511.4,37.1 C514.5,37.5 517.8,38.2 521.4,39.2 C525.0,40.2 529.2,41.7 532.8,42.8 C536.3,43.9 540.2,44.9 542.7,45.7 C545.2,46.5 546.5,46.6 548.0,47.5 C549.5,48.4 551.2,49.7 552.0,51.0 C552.8,52.3 553.2,54.2 552.8,55.5 C552.4,56.8 550.8,58.3 549.5,58.8 C548.2,59.3 546.4,58.8 545.0,58.5 C543.6,58.2 543.3,57.3 541.3,56.8 C539.3,56.3 535.4,56.2 532.8,55.6 C530.2,55.0 528.2,53.5 525.6,53.0 C523.0,52.5 519.0,52.0 517.1,52.3 C515.2,52.5 514.9,53.0 514.2,54.5 C513.5,56.0 513.5,59.9 512.8,61.3 C512.1,62.7 510.9,63.0 510.0,62.8 C509.1,62.6 508.1,61.4 507.4,60.0 C506.7,58.6 506.6,56.0 505.7,54.5 C504.8,53.0 503.4,51.8 502.1,50.8 C500.8,49.8 498.9,49.7 497.8,48.5 C496.7,47.3 495.4,45.2 495.4,43.5Z" transform="translate(0,0)"/></clipPath>
<g clip-path="url(#cT)"><path d="M495.4,43.5 C495.4,41.8 496.6,39.6 497.8,38.5 C499.0,37.4 500.5,37.0 502.8,36.8 C505.1,36.6 508.3,36.7 511.4,37.1 C514.5,37.5 517.8,38.2 521.4,39.2 C525.0,40.2 529.2,41.7 532.8,42.8 C536.3,43.9 540.2,44.9 542.7,45.7 C545.2,46.5 546.5,46.6 548.0,47.5 C549.5,48.4 551.2,49.7 552.0,51.0 C552.8,52.3 553.2,54.2 552.8,55.5 C552.4,56.8 550.8,58.3 549.5,58.8 C548.2,59.3 546.4,58.8 545.0,58.5 C543.6,58.2 543.3,57.3 541.3,56.8 C539.3,56.3 535.4,56.2 532.8,55.6 C530.2,55.0 528.2,53.5 525.6,53.0 C523.0,52.5 519.0,52.0 517.1,52.3 C515.2,52.5 514.9,53.0 514.2,54.5 C513.5,56.0 513.5,59.9 512.8,61.3 C512.1,62.7 510.9,63.0 510.0,62.8 C509.1,62.6 508.1,61.4 507.4,60.0 C506.7,58.6 506.6,56.0 505.7,54.5 C504.8,53.0 503.4,51.8 502.1,50.8 C500.8,49.8 498.9,49.7 497.8,48.5 C496.7,47.3 495.4,45.2 495.4,43.5Z" transform="translate(0,0)" fill="#293a64"/>
<g filter="url(#blur1_5)" transform="translate(0,0)">
<ellipse cx="522" cy="47" rx="14" ry="2.5" fill="#46526e" transform="rotate(12 522 47)"/>
<ellipse cx="509" cy="55.5" rx="3.2" ry="5.5" fill="#8a92ac" transform="rotate(0 509 55.5)"/>
<ellipse cx="504" cy="50" rx="3" ry="1.5" fill="#6a7490" transform="rotate(20 504 50)"/>
</g>
</g>
<clipPath id="cB"><path d="M555.5,36.0 C555.8,34.0 556.2,32.2 557.0,31.0 C557.8,29.8 558.8,29.0 560.0,28.5 C561.2,28.0 562.8,28.0 564.0,28.2 C565.2,28.4 566.6,29.0 567.5,29.8 C568.4,30.6 569.1,32.0 569.5,33.0 C569.9,34.0 569.5,35.1 570.0,36.0 C570.5,36.9 571.6,37.6 572.5,38.3 C573.4,39.0 575.1,39.8 575.5,40.3 C575.9,40.8 575.5,41.6 574.8,41.6 C574.0,41.6 572.2,40.5 571.0,40.3 C569.8,40.1 568.5,40.2 567.5,40.5 C566.5,40.8 565.6,41.0 564.7,42.0 C563.8,43.0 563.0,45.2 562.0,46.5 C561.0,47.8 559.7,48.8 558.5,50.0 C557.3,51.2 556.0,53.5 555.0,54.0 C554.0,54.5 552.8,54.0 552.5,53.0 C552.2,52.0 553.1,49.7 553.5,48.0 C553.9,46.3 554.7,45.0 555.0,43.0 C555.3,41.0 555.2,38.0 555.5,36.0Z" transform="translate(0,0)"/></clipPath>
<g clip-path="url(#cB)"><path d="M555.5,36.0 C555.8,34.0 556.2,32.2 557.0,31.0 C557.8,29.8 558.8,29.0 560.0,28.5 C561.2,28.0 562.8,28.0 564.0,28.2 C565.2,28.4 566.6,29.0 567.5,29.8 C568.4,30.6 569.1,32.0 569.5,33.0 C569.9,34.0 569.5,35.1 570.0,36.0 C570.5,36.9 571.6,37.6 572.5,38.3 C573.4,39.0 575.1,39.8 575.5,40.3 C575.9,40.8 575.5,41.6 574.8,41.6 C574.0,41.6 572.2,40.5 571.0,40.3 C569.8,40.1 568.5,40.2 567.5,40.5 C566.5,40.8 565.6,41.0 564.7,42.0 C563.8,43.0 563.0,45.2 562.0,46.5 C561.0,47.8 559.7,48.8 558.5,50.0 C557.3,51.2 556.0,53.5 555.0,54.0 C554.0,54.5 552.8,54.0 552.5,53.0 C552.2,52.0 553.1,49.7 553.5,48.0 C553.9,46.3 554.7,45.0 555.0,43.0 C555.3,41.0 555.2,38.0 555.5,36.0Z" transform="translate(0,0)" fill="#293a64"/>
<g filter="url(#blur1)" transform="translate(0,0)">
<ellipse cx="563" cy="33" rx="3" ry="2.5" fill="#3c4a6c" transform="rotate(0 563 33)"/>
</g>
</g>
<clipPath id="cM"><path d="M569.1,54.9 C569.4,53.8 572.8,53.0 574.9,51.6 C577.0,50.2 579.4,47.6 581.6,46.6 C583.8,45.6 585.7,45.4 588.2,45.8 C590.7,46.2 593.7,47.4 596.5,49.1 C599.3,50.8 602.4,53.3 604.9,55.8 C607.4,58.3 610.1,61.5 611.5,64.1 C612.9,66.7 613.5,68.9 613.5,71.5 C613.5,74.1 612.7,77.5 611.5,79.9 C610.3,82.3 608.4,84.3 606.5,85.7 C604.6,87.1 602.0,88.1 599.9,88.2 C597.8,88.3 595.4,87.6 594.0,86.5 C592.6,85.4 592.7,83.4 591.6,81.5 C590.5,79.6 588.8,76.8 587.4,74.9 C586.0,73.0 584.7,71.7 583.2,69.9 C581.7,68.1 579.9,66.0 578.3,64.1 C576.6,62.1 574.8,59.7 573.3,58.2 C571.8,56.7 568.8,56.0 569.1,54.9Z" transform="translate(0,0)"/></clipPath>
<g clip-path="url(#cM)"><path d="M569.1,54.9 C569.4,53.8 572.8,53.0 574.9,51.6 C577.0,50.2 579.4,47.6 581.6,46.6 C583.8,45.6 585.7,45.4 588.2,45.8 C590.7,46.2 593.7,47.4 596.5,49.1 C599.3,50.8 602.4,53.3 604.9,55.8 C607.4,58.3 610.1,61.5 611.5,64.1 C612.9,66.7 613.5,68.9 613.5,71.5 C613.5,74.1 612.7,77.5 611.5,79.9 C610.3,82.3 608.4,84.3 606.5,85.7 C604.6,87.1 602.0,88.1 599.9,88.2 C597.8,88.3 595.4,87.6 594.0,86.5 C592.6,85.4 592.7,83.4 591.6,81.5 C590.5,79.6 588.8,76.8 587.4,74.9 C586.0,73.0 584.7,71.7 583.2,69.9 C581.7,68.1 579.9,66.0 578.3,64.1 C576.6,62.1 574.8,59.7 573.3,58.2 C571.8,56.7 568.8,56.0 569.1,54.9Z" transform="translate(0,0)" fill="#293a64"/>
<g filter="url(#blur1_5)" transform="translate(0,0)">
<ellipse cx="590" cy="62" rx="8" ry="5" fill="#33446c" transform="rotate(40 590 62)"/>
</g>
</g>
<clipPath id="cP"><path d="M561.6,69.1 C562.1,68.0 565.7,69.2 567.4,69.9 C569.1,70.6 570.8,71.8 571.6,73.2 C572.4,74.6 572.7,76.7 572.4,78.2 C572.1,79.7 570.9,81.9 569.9,82.4 C568.9,83.0 567.6,82.5 566.6,81.5 C565.6,80.5 564.9,78.6 564.1,76.5 C563.3,74.4 561.1,70.2 561.6,69.1Z" transform="translate(0,0)"/></clipPath>
<g clip-path="url(#cP)"><path d="M561.6,69.1 C562.1,68.0 565.7,69.2 567.4,69.9 C569.1,70.6 570.8,71.8 571.6,73.2 C572.4,74.6 572.7,76.7 572.4,78.2 C572.1,79.7 570.9,81.9 569.9,82.4 C568.9,83.0 567.6,82.5 566.6,81.5 C565.6,80.5 564.9,78.6 564.1,76.5 C563.3,74.4 561.1,70.2 561.6,69.1Z" transform="translate(0,0)" fill="#293a64"/>
<g filter="url(#blur1)" transform="translate(0,0)">
<ellipse cx="567" cy="76" rx="2" ry="3" fill="#3a4a6a" transform="rotate(0 567 76)"/>
</g>
</g>
<clipPath id="cC"><path d="M509.2,89.9 C509.1,88.4 509.6,85.9 510.8,84.1 C512.0,82.3 514.5,80.5 516.6,79.1 C518.7,77.7 521.1,76.6 523.3,75.8 C525.5,75.0 527.9,74.5 530.0,74.5 C532.1,74.5 534.2,75.5 536.0,76.0 C537.8,76.5 540.1,76.5 540.7,77.5 C541.3,78.5 540.1,80.4 539.5,82.0 C538.9,83.6 537.5,85.5 537.0,87.0 C536.5,88.5 536.0,89.9 536.5,90.8 C537.0,91.7 538.0,92.1 540.0,92.4 C542.0,92.7 544.9,92.7 548.2,92.4 C551.5,92.1 557.3,90.8 559.9,90.8 C562.5,90.8 563.6,91.6 564.0,92.4 C564.4,93.2 563.9,94.7 562.4,95.8 C560.9,96.9 557.8,97.7 554.9,99.1 C552.0,100.5 548.2,103.0 544.9,104.1 C541.6,105.2 537.9,105.3 534.9,105.7 C531.9,106.1 528.5,106.7 526.6,106.6 C524.7,106.5 524.0,106.0 523.3,104.9 C522.6,103.8 523.6,101.4 522.5,99.9 C521.4,98.4 518.4,96.9 516.6,95.8 C514.8,94.7 512.9,94.3 511.7,93.3 C510.5,92.3 509.3,91.4 509.2,89.9Z" transform="translate(0,0)"/></clipPath>
<g clip-path="url(#cC)"><path d="M509.2,89.9 C509.1,88.4 509.6,85.9 510.8,84.1 C512.0,82.3 514.5,80.5 516.6,79.1 C518.7,77.7 521.1,76.6 523.3,75.8 C525.5,75.0 527.9,74.5 530.0,74.5 C532.1,74.5 534.2,75.5 536.0,76.0 C537.8,76.5 540.1,76.5 540.7,77.5 C541.3,78.5 540.1,80.4 539.5,82.0 C538.9,83.6 537.5,85.5 537.0,87.0 C536.5,88.5 536.0,89.9 536.5,90.8 C537.0,91.7 538.0,92.1 540.0,92.4 C542.0,92.7 544.9,92.7 548.2,92.4 C551.5,92.1 557.3,90.8 559.9,90.8 C562.5,90.8 563.6,91.6 564.0,92.4 C564.4,93.2 563.9,94.7 562.4,95.8 C560.9,96.9 557.8,97.7 554.9,99.1 C552.0,100.5 548.2,103.0 544.9,104.1 C541.6,105.2 537.9,105.3 534.9,105.7 C531.9,106.1 528.5,106.7 526.6,106.6 C524.7,106.5 524.0,106.0 523.3,104.9 C522.6,103.8 523.6,101.4 522.5,99.9 C521.4,98.4 518.4,96.9 516.6,95.8 C514.8,94.7 512.9,94.3 511.7,93.3 C510.5,92.3 509.3,91.4 509.2,89.9Z" transform="translate(0,0)" fill="#293a64"/>
<g filter="url(#blur1_8)" transform="translate(0,0)">
<path d="M509.0,87.0 C509.2,84.6 511.3,82.2 513.0,80.5 C514.7,78.8 516.8,77.8 519.0,77.0 C521.2,76.2 524.2,75.7 526.0,76.0 C527.8,76.3 529.7,77.2 530.0,79.0 C530.3,80.8 528.8,84.3 528.0,87.0 C527.2,89.7 526.5,93.0 525.0,95.0 C523.5,97.0 521.2,99.0 519.0,99.0 C516.8,99.0 513.7,97.0 512.0,95.0 C510.3,93.0 508.8,89.4 509.0,87.0Z" fill="#74745f"/>
<ellipse cx="532" cy="79" rx="4" ry="2" fill="#4a5468" transform="rotate(-10 532 79)"/>
<ellipse cx="512" cy="90" rx="3" ry="4" fill="#e2da56" transform="rotate(0 512 90)"/>
<ellipse cx="536" cy="104" rx="9" ry="2.2" fill="#8e8c60" transform="rotate(-10 536 104)"/>
<ellipse cx="548" cy="82.5" rx="0.6" ry="4" fill="#293a64" transform="rotate(30 548 82.5)"/>
</g>
</g>
<path d="M544,92.4 L549,82.5" stroke="#293a64" stroke-width="0.8"/>
<clipPath id="cF"><path d="M531.6,120.3 C532.4,119.1 533.9,118.7 535.2,118.3 C536.5,117.9 538.3,117.5 539.6,118.0 C540.9,118.5 542.0,120.8 543.2,121.5 C544.4,122.2 545.1,122.7 546.9,122.4 C548.7,122.2 552.2,120.3 554.2,120.0 C556.2,119.7 557.5,120.1 558.6,120.5 C559.7,120.9 561.0,121.6 561.0,122.2 C561.0,122.8 560.0,123.6 558.6,124.0 C557.2,124.4 554.7,124.3 552.7,124.7 C550.8,125.1 549.1,125.5 546.9,126.2 C544.7,126.9 541.7,128.4 539.6,129.1 C537.5,129.8 535.9,130.5 534.5,130.5 C533.1,130.5 532.0,129.9 531.4,129.1 C530.8,128.2 530.6,126.9 530.6,125.4 C530.6,123.9 530.8,121.5 531.6,120.3Z" transform="translate(0,0)"/></clipPath>
<g clip-path="url(#cF)"><path d="M531.6,120.3 C532.4,119.1 533.9,118.7 535.2,118.3 C536.5,117.9 538.3,117.5 539.6,118.0 C540.9,118.5 542.0,120.8 543.2,121.5 C544.4,122.2 545.1,122.7 546.9,122.4 C548.7,122.2 552.2,120.3 554.2,120.0 C556.2,119.7 557.5,120.1 558.6,120.5 C559.7,120.9 561.0,121.6 561.0,122.2 C561.0,122.8 560.0,123.6 558.6,124.0 C557.2,124.4 554.7,124.3 552.7,124.7 C550.8,125.1 549.1,125.5 546.9,126.2 C544.7,126.9 541.7,128.4 539.6,129.1 C537.5,129.8 535.9,130.5 534.5,130.5 C533.1,130.5 532.0,129.9 531.4,129.1 C530.8,128.2 530.6,126.9 530.6,125.4 C530.6,123.9 530.8,121.5 531.6,120.3Z" transform="translate(0,0)" fill="#293a64"/>
<g filter="url(#blur1)" transform="translate(0,0)">
<ellipse cx="545" cy="124" rx="6" ry="2" fill="#3e4a66" transform="rotate(0 545 124)"/>
</g>
</g>
<clipPath id="cMa"><path d="M582.0,97.0 C582.5,96.5 583.7,98.9 584.5,99.0 C585.3,99.1 586.2,97.5 587.0,97.5 C587.8,97.5 588.8,97.9 589.0,99.0 C589.2,100.1 589.0,102.7 588.5,104.0 C588.0,105.3 586.9,106.6 586.0,107.0 C585.1,107.4 583.8,107.3 583.0,106.5 C582.2,105.7 581.7,103.6 581.5,102.0 C581.3,100.4 581.5,97.5 582.0,97.0Z" transform="translate(0,0)"/></clipPath>
<g clip-path="url(#cMa)"><path d="M582.0,97.0 C582.5,96.5 583.7,98.9 584.5,99.0 C585.3,99.1 586.2,97.5 587.0,97.5 C587.8,97.5 588.8,97.9 589.0,99.0 C589.2,100.1 589.0,102.7 588.5,104.0 C588.0,105.3 586.9,106.6 586.0,107.0 C585.1,107.4 583.8,107.3 583.0,106.5 C582.2,105.7 581.7,103.6 581.5,102.0 C581.3,100.4 581.5,97.5 582.0,97.0Z" transform="translate(0,0)" fill="#293a64"/>
</g>
<clipPath id="cE"><path d="M574.0,115.0 C574.6,114.2 576.1,113.5 577.0,113.5 C577.9,113.5 578.7,114.8 579.5,115.0 C580.3,115.2 581.7,113.8 582.0,114.5 C582.3,115.2 582.1,117.8 581.5,119.0 C580.9,120.2 579.6,121.6 578.5,122.0 C577.4,122.4 575.8,122.2 575.0,121.5 C574.2,120.8 573.7,119.1 573.5,118.0 C573.3,116.9 573.4,115.8 574.0,115.0Z" transform="translate(0,0)"/></clipPath>
<g clip-path="url(#cE)"><path d="M574.0,115.0 C574.6,114.2 576.1,113.5 577.0,113.5 C577.9,113.5 578.7,114.8 579.5,115.0 C580.3,115.2 581.7,113.8 582.0,114.5 C582.3,115.2 582.1,117.8 581.5,119.0 C580.9,120.2 579.6,121.6 578.5,122.0 C577.4,122.4 575.8,122.2 575.0,121.5 C574.2,120.8 573.7,119.1 573.5,118.0 C573.3,116.9 573.4,115.8 574.0,115.0Z" transform="translate(0,0)" fill="#293a64"/>
</g>
<path d="M586,104 L594.5,89" stroke="#293a64" stroke-width="0.7"/>
<path d="M580,116 L586,110" stroke="#293a64" stroke-width="0.7"/>
<path d="M560,122.2 L575,116.5" stroke="#293a64" stroke-width="0.8"/>
<path d="M493.5,108.5 V132.1 H517" fill="none" stroke="#333" stroke-width="0.8"/>
<path d="M491.5,111.7 L493.5,108.5 L495.5,111.7" fill="none" stroke="#333" stroke-width="0.8"/>
<path d="M513.8,130.1 L517,132.1 L513.8,134.1" fill="none" stroke="#333" stroke-width="0.8"/>
<text font-size="9.35" fill="#222" text-anchor="middle" transform="translate(487.2,110.35) rotate(-90) scale(0.92,1)">UMAP_2</text>
<text font-size="9.35" fill="#222" transform="translate(496.8,144.5) scale(0.92,1)">UMAP_1</text>
<defs><linearGradient id="gdens" x1="0" y1="0" x2="0" y2="1"><stop offset="0" stop-color="#f1ea4c"/><stop offset="0.5" stop-color="#8a8a78"/><stop offset="1" stop-color="#1c2c5e"/></linearGradient></defs>
<rect x="646.4" y="74.2" width="6.4" height="33.8" fill="url(#gdens)"/>
<text font-size="9.13" fill="#222" transform="translate(647.1,68.5) scale(0.92,1)">Density</text>
<text font-size="9.13" fill="#222" transform="translate(655.2,80.8) scale(0.92,1)">0.03</text>
<text font-size="9.13" fill="#222" transform="translate(655.2,90.5) scale(0.92,1)">0.02</text>
<text font-size="9.13" fill="#222" transform="translate(655.2,100) scale(0.92,1)">0.01</text>
<rect x="56.7" y="179.6" width="36.3" height="82.50000000000003" fill="none" stroke="#666" stroke-width="1"/>
<text font-size="9.46" fill="#222" transform="translate(60.7,176.3) scale(0.92,1)">MZT2B</text>
<text font-size="9.46" fill="#222" text-anchor="end" transform="translate(52.6,188.6) scale(0.92,1)">T</text>
<line x1="54.7" y1="184.5" x2="56.7" y2="184.5" stroke="#555" stroke-width="0.7"/>
<text font-size="9.46" fill="#e0413a" text-anchor="end" transform="translate(52.6,197.65) scale(0.92,1)">Cancer</text>
<line x1="54.7" y1="193.55" x2="56.7" y2="193.55" stroke="#555" stroke-width="0.7"/>
<text font-size="9.46" fill="#222" text-anchor="end" transform="translate(52.6,206.7) scale(0.92,1)">Plasma</text>
<line x1="54.7" y1="202.6" x2="56.7" y2="202.6" stroke="#555" stroke-width="0.7"/>
<text font-size="9.46" fill="#222" text-anchor="end" transform="translate(52.6,215.75) scale(0.92,1)">Myeloid</text>
<line x1="54.7" y1="211.65" x2="56.7" y2="211.65" stroke="#555" stroke-width="0.7"/>
<text font-size="9.46" fill="#222" text-anchor="end" transform="translate(52.6,224.8) scale(0.92,1)">Ciliated</text>
<line x1="54.7" y1="220.7" x2="56.7" y2="220.7" stroke="#555" stroke-width="0.7"/>
<text font-size="9.46" fill="#222" text-anchor="end" transform="translate(52.6,233.85) scale(0.92,1)">Fibroblasts</text>
<line x1="54.7" y1="229.75" x2="56.7" y2="229.75" stroke="#555" stroke-width="0.7"/>
<text font-size="9.46" fill="#222" text-anchor="end" transform="translate(52.6,242.9) scale(0.92,1)">Endothelial</text>
<line x1="54.7" y1="238.8" x2="56.7" y2="238.8" stroke="#555" stroke-width="0.7"/>
<text font-size="9.46" fill="#222" text-anchor="end" transform="translate(52.6,251.95) scale(0.92,1)">Mast</text>
<line x1="54.7" y1="247.85" x2="56.7" y2="247.85" stroke="#555" stroke-width="0.7"/>
<text font-size="9.46" fill="#222" text-anchor="end" transform="translate(52.6,261.0) scale(0.92,1)">B</text>
<line x1="54.7" y1="256.9" x2="56.7" y2="256.9" stroke="#555" stroke-width="0.7"/>
<line x1="66.7" y1="262.1" x2="66.7" y2="264.1" stroke="#555" stroke-width="0.7"/>
<line x1="83.2" y1="262.1" x2="83.2" y2="264.1" stroke="#555" stroke-width="0.7"/>
<circle cx="66.7" cy="184.5" r="2.0" fill="#dfe6f4"/>
<circle cx="83.2" cy="184.5" r="1.2" fill="#7e9ad2"/>
<circle cx="66.7" cy="193.55" r="4.3" fill="#e47c4c"/>
<circle cx="83.2" cy="193.55" r="4.6" fill="#d9382b"/>
<circle cx="66.7" cy="202.6" r="2.9" fill="#7e9ad2"/>
<circle cx="83.2" cy="202.6" r="2.7" fill="#98acdb"/>
<circle cx="66.7" cy="211.65" r="2.3" fill="#6988c8"/>
<circle cx="83.2" cy="211.65" r="1.9" fill="#6988c8"/>
<circle cx="66.7" cy="220.7" r="2.7" fill="#c3cfea"/>
<circle cx="83.2" cy="220.7" r="2.8" fill="#8aa3d6"/>
<circle cx="66.7" cy="229.75" r="3.7" fill="#f6f7da"/>
<circle cx="83.2" cy="229.75" r="3.6" fill="#f6f7da"/>
<circle cx="66.7" cy="238.8" r="3.0" fill="#afc0e4"/>
<circle cx="83.2" cy="238.8" r="3.4" fill="#fbf8e0"/>
<circle cx="66.7" cy="247.85" r="2.0" fill="#5f80c4"/>
<circle cx="83.2" cy="247.85" r="1.7" fill="#7896d0"/>
<circle cx="66.7" cy="256.9" r="1.7" fill="#7e9ad2"/>
<circle cx="83.2" cy="256.9" r="0.6" fill="#c3cfea"/>
<text font-size="9.46" fill="#222" text-anchor="end" transform="translate(70.6,267.8) rotate(-45) scale(0.92,1)">LUAD</text>
<text font-size="9.46" fill="#222" text-anchor="end" transform="translate(87.2,268.2) rotate(-45) scale(0.92,1)">LUSC</text>
<text font-size="9.46" fill="#222" transform="translate(96.7,176.9) scale(0.92,1)">pct.exp</text>
<circle cx="100.7" cy="186" r="1.4" fill="#111"/>
<text font-size="9.46" fill="#222" transform="translate(109,189.1) scale(0.92,1)">20</text>
<circle cx="100.7" cy="198.3" r="2.6" fill="#111"/>
<text font-size="9.46" fill="#222" transform="translate(109,201.4) scale(0.92,1)">40</text>
<circle cx="100.7" cy="210.7" r="3.4" fill="#111"/>
<text font-size="9.46" fill="#222" transform="translate(109,213.79999999999998) scale(0.92,1)">60</text>
<text font-size="9.46" fill="#222" transform="translate(96,229.2) scale(0.92,1)">avg.exp</text>
<defs><linearGradient id="gD" x1="0" y1="0" x2="0" y2="1"><stop offset="0" stop-color="#d73027"/><stop offset="0.22" stop-color="#f29a58"/><stop offset="0.42" stop-color="#faf2a8"/><stop offset="0.62" stop-color="#ffffff"/><stop offset="1" stop-color="#4a78c0"/></linearGradient></defs>
<rect x="96" y="231.8" width="6.6" height="34" fill="url(#gD)"/>
<text font-size="9.46" fill="#222" transform="translate(104.5,239.5) scale(0.92,1)">2</text>
<text font-size="9.46" fill="#222" transform="translate(104.5,248.4) scale(0.92,1)">1</text>
<text font-size="9.46" fill="#222" transform="translate(104.5,257.3) scale(0.92,1)">0</text>
<text font-size="9.46" fill="#222" transform="translate(104.5,266.1) scale(0.92,1)">−1</text>
<text font-size="9.46" fill="#222" transform="translate(271,158.6) scale(0.92,1)">Cancer</text>
<path d="M208.3,243.3 V266.2 H231.6" fill="none" stroke="#333" stroke-width="0.8"/>
<path d="M206.3,246.5 L208.3,243.3 L210.3,246.5" fill="none" stroke="#333" stroke-width="0.8"/>
<path d="M228.4,264.2 L231.6,266.2 L228.4,268.2" fill="none" stroke="#333" stroke-width="0.8"/>
<text font-size="9.35" fill="#222" text-anchor="middle" transform="translate(201.8,244.95) rotate(-90) scale(0.92,1)">UMAP_2</text>
<text font-size="9.35" fill="#222" transform="translate(211.3,279) scale(0.92,1)">UMAP_1</text>
<circle cx="382.1" cy="179.6" r="2.5" fill="#74c9a3"/>
<text font-size="9.46" fill="#222" transform="translate(391.9,182.7) scale(0.92,1)">CXCL1 Cancer</text>
<circle cx="382.1" cy="189.4" r="2.5" fill="#ef8059"/>
<text font-size="9.46" fill="#e0413a" transform="translate(391.9,192.5) scale(0.92,1)">Proliferating Cancer</text>
<circle cx="382.1" cy="199.2" r="2.5" fill="#7bb2da"/>
<text font-size="9.46" fill="#222" transform="translate(391.9,202.29999999999998) scale(0.92,1)">SOX2 Cancer</text>
<circle cx="382.1" cy="209.0" r="2.5" fill="#e98ccf"/>
<text font-size="9.46" fill="#222" transform="translate(391.9,212.1) scale(0.92,1)">CDKN2A Cancer</text>
<circle cx="382.1" cy="218.8" r="2.5" fill="#9bdb54"/>
<text font-size="9.46" fill="#222" transform="translate(391.9,221.9) scale(0.92,1)">LAMC2 Cancer</text>
<circle cx="382.1" cy="228.6" r="2.5" fill="#ebdc3a"/>
<text font-size="9.46" fill="#222" transform="translate(391.9,231.7) scale(0.92,1)">Pathological Alveolar</text>
<circle cx="382.1" cy="238.4" r="2.5" fill="#bcb4e4"/>
<text font-size="9.46" fill="#222" transform="translate(391.9,241.5) scale(0.92,1)">Alveolar</text>
<clipPath id="eU"><path d="M261.5,179.5 C260.3,178.8 258.7,181.1 257.1,182.1 C255.5,183.1 254.1,184.5 251.7,185.7 C249.3,186.9 245.5,187.7 242.8,189.2 C240.1,190.7 237.6,192.5 235.7,194.6 C233.8,196.7 232.2,199.0 231.2,201.7 C230.2,204.4 229.5,207.9 229.5,210.6 C229.5,213.3 230.2,215.6 231.2,217.7 C232.2,219.8 233.8,221.6 235.7,223.1 C237.6,224.6 240.7,225.4 242.8,226.6 C244.9,227.8 246.7,228.4 248.2,230.2 C249.7,232.0 251.0,234.9 251.7,237.3 C252.4,239.7 251.8,242.7 252.6,244.5 C253.3,246.3 254.3,247.6 256.2,248.0 C258.1,248.4 261.5,247.6 264.2,247.1 C266.9,246.6 269.6,245.2 272.1,244.9 C274.6,244.7 276.9,245.6 279.3,245.6 C281.7,245.6 284.3,245.5 286.4,244.9 C288.5,244.3 290.2,243.3 292.1,242.1 C294.0,240.9 295.7,239.1 297.8,237.8 C299.9,236.5 302.5,235.4 304.9,234.2 C307.3,233.0 310.0,232.0 312.1,230.7 C314.2,229.4 316.5,227.8 317.8,226.4 C319.1,225.0 319.7,223.4 319.9,222.1 C320.1,220.8 320.0,219.6 319.2,218.5 C318.4,217.4 316.8,216.0 314.9,215.7 C313.0,215.3 310.2,215.8 307.8,216.4 C305.4,217.0 303.1,218.4 300.7,219.2 C298.3,220.0 295.9,221.0 293.5,221.4 C291.1,221.8 288.8,222.0 286.4,221.4 C284.0,220.8 281.4,219.1 279.3,217.8 C277.2,216.5 274.9,214.8 273.6,213.5 C272.4,212.2 271.8,211.2 271.8,210.0 C271.8,208.8 272.8,207.8 273.6,206.4 C274.4,205.0 275.4,203.7 276.6,201.7 C277.9,199.7 280.2,196.7 281.1,194.6 C282.0,192.5 282.9,190.1 282.2,189.2 C281.4,188.3 278.9,188.5 276.6,189.0 C274.3,189.5 270.6,192.4 268.5,192.0 C266.4,191.6 265.4,188.6 264.2,186.5 C263.0,184.4 262.7,180.2 261.5,179.5Z" transform="translate(0,0)"/></clipPath>
<g clip-path="url(#eU)"><path d="M261.5,179.5 C260.3,178.8 258.7,181.1 257.1,182.1 C255.5,183.1 254.1,184.5 251.7,185.7 C249.3,186.9 245.5,187.7 242.8,189.2 C240.1,190.7 237.6,192.5 235.7,194.6 C233.8,196.7 232.2,199.0 231.2,201.7 C230.2,204.4 229.5,207.9 229.5,210.6 C229.5,213.3 230.2,215.6 231.2,217.7 C232.2,219.8 233.8,221.6 235.7,223.1 C237.6,224.6 240.7,225.4 242.8,226.6 C244.9,227.8 246.7,228.4 248.2,230.2 C249.7,232.0 251.0,234.9 251.7,237.3 C252.4,239.7 251.8,242.7 252.6,244.5 C253.3,246.3 254.3,247.6 256.2,248.0 C258.1,248.4 261.5,247.6 264.2,247.1 C266.9,246.6 269.6,245.2 272.1,244.9 C274.6,244.7 276.9,245.6 279.3,245.6 C281.7,245.6 284.3,245.5 286.4,244.9 C288.5,244.3 290.2,243.3 292.1,242.1 C294.0,240.9 295.7,239.1 297.8,237.8 C299.9,236.5 302.5,235.4 304.9,234.2 C307.3,233.0 310.0,232.0 312.1,230.7 C314.2,229.4 316.5,227.8 317.8,226.4 C319.1,225.0 319.7,223.4 319.9,222.1 C320.1,220.8 320.0,219.6 319.2,218.5 C318.4,217.4 316.8,216.0 314.9,215.7 C313.0,215.3 310.2,215.8 307.8,216.4 C305.4,217.0 303.1,218.4 300.7,219.2 C298.3,220.0 295.9,221.0 293.5,221.4 C291.1,221.8 288.8,222.0 286.4,221.4 C284.0,220.8 281.4,219.1 279.3,217.8 C277.2,216.5 274.9,214.8 273.6,213.5 C272.4,212.2 271.8,211.2 271.8,210.0 C271.8,208.8 272.8,207.8 273.6,206.4 C274.4,205.0 275.4,203.7 276.6,201.7 C277.9,199.7 280.2,196.7 281.1,194.6 C282.0,192.5 282.9,190.1 282.2,189.2 C281.4,188.3 278.9,188.5 276.6,189.0 C274.3,189.5 270.6,192.4 268.5,192.0 C266.4,191.6 265.4,188.6 264.2,186.5 C263.0,184.4 262.7,180.2 261.5,179.5Z" transform="translate(0,0)" fill="#80b3da"/>
<g filter="url(#blur1_8)" transform="translate(0,0)">
<path d="M249.0,187.0 C250.7,185.3 253.9,184.2 256.0,183.0 C258.1,181.8 260.2,179.3 261.5,180.0 C262.8,180.7 263.6,184.8 264.0,187.0 C264.4,189.2 264.8,191.2 264.0,193.0 C263.2,194.8 260.7,196.7 259.0,198.0 C257.3,199.3 255.7,201.0 254.0,201.0 C252.3,201.0 250.3,199.3 249.0,198.0 C247.7,196.7 246.0,194.8 246.0,193.0 C246.0,191.2 247.3,188.7 249.0,187.0Z" fill="#e08fca"/>
<path d="M256.0,199.0 C257.3,197.2 259.7,194.5 262.0,193.0 C264.3,191.5 267.3,190.8 270.0,190.0 C272.7,189.2 275.8,188.3 278.0,188.0 C280.2,187.7 282.3,186.8 283.0,188.0 C283.7,189.2 283.0,192.7 282.0,195.0 C281.0,197.3 278.5,199.7 277.0,202.0 C275.5,204.3 275.0,207.7 273.0,209.0 C271.0,210.3 267.5,210.3 265.0,210.0 C262.5,209.7 259.8,208.0 258.0,207.0 C256.2,206.0 254.3,205.3 254.0,204.0 C253.7,202.7 254.7,200.8 256.0,199.0Z" fill="#ee8357"/>
<path d="M250.0,224.0 C251.0,221.8 254.7,219.8 257.0,219.0 C259.3,218.2 261.5,218.5 264.0,219.0 C266.5,219.5 269.7,220.7 272.0,222.0 C274.3,223.3 276.7,224.7 278.0,227.0 C279.3,229.3 280.3,232.8 280.0,236.0 C279.7,239.2 278.3,244.0 276.0,246.0 C273.7,248.0 269.3,247.7 266.0,248.0 C262.7,248.3 258.3,249.3 256.0,248.0 C253.7,246.7 252.8,242.7 252.0,240.0 C251.2,237.3 251.3,234.7 251.0,232.0 C250.7,229.3 249.0,226.2 250.0,224.0Z" fill="#7fcaa7"/>
<path d="M252.0,239.0 C253.0,238.0 256.2,238.3 258.0,239.0 C259.8,239.7 262.3,241.3 263.0,243.0 C263.7,244.7 263.3,248.0 262.0,249.0 C260.7,250.0 256.7,249.7 255.0,249.0 C253.3,248.3 252.5,246.7 252.0,245.0 C251.5,243.3 251.0,240.0 252.0,239.0Z" fill="#a8da66"/>
<path d="M260.0,210.0 C261.3,209.0 264.8,208.5 267.0,209.0 C269.2,209.5 271.5,211.5 273.0,213.0 C274.5,214.5 276.5,216.8 276.0,218.0 C275.5,219.2 272.2,219.8 270.0,220.0 C267.8,220.2 264.8,219.8 263.0,219.0 C261.2,218.2 259.5,216.5 259.0,215.0 C258.5,213.5 258.7,211.0 260.0,210.0Z" fill="#d3e6de"/>
<path d="M273.0,227.0 C274.5,225.2 277.2,223.8 280.0,223.0 C282.8,222.2 286.7,222.8 290.0,222.5 C293.3,222.2 297.3,220.6 300.0,221.0 C302.7,221.4 305.3,223.2 306.0,225.0 C306.7,226.8 305.7,229.8 304.0,232.0 C302.3,234.2 298.7,236.0 296.0,238.0 C293.3,240.0 291.0,242.5 288.0,244.0 C285.0,245.5 280.7,247.2 278.0,247.0 C275.3,246.8 273.2,245.2 272.0,243.0 C270.8,240.8 270.8,236.7 271.0,234.0 C271.2,231.3 271.5,228.8 273.0,227.0Z" fill="#e9dc4a"/>
<path d="M276.0,223.0 C277.0,221.7 281.0,221.2 284.0,221.0 C287.0,220.8 291.3,221.6 294.0,221.5 C296.7,221.4 299.3,219.8 300.0,220.5 C300.7,221.2 300.0,224.8 298.0,226.0 C296.0,227.2 291.3,227.5 288.0,228.0 C284.7,228.5 280.0,229.8 278.0,229.0 C276.0,228.2 275.0,224.3 276.0,223.0Z" fill="#ede6a6"/>
<path d="M300.0,219.0 C301.5,217.2 305.5,216.6 308.0,216.0 C310.5,215.4 313.0,215.0 315.0,215.5 C317.0,216.0 319.4,217.2 320.0,219.0 C320.6,220.8 319.8,224.0 318.5,226.0 C317.2,228.0 314.4,229.8 312.0,231.0 C309.6,232.2 306.2,233.7 304.0,233.0 C301.8,232.3 299.7,229.3 299.0,227.0 C298.3,224.7 298.5,220.8 300.0,219.0Z" fill="#c2bbe6"/>
</g>
</g>
<g filter="url(#blur0_5)"><circle cx="262.5" cy="178" r="0.7" fill="#e08fca"/><circle cx="264" cy="176.5" r="0.5" fill="#e08fca"/><circle cx="334" cy="186" r="0.6" fill="#9bdb54"/><circle cx="338" cy="185.5" r="0.5" fill="#e98ccf"/><circle cx="341.5" cy="186.2" r="0.5" fill="#e98ccf"/><circle cx="340" cy="236.5" r="0.5" fill="#bcb4e4"/><circle cx="344" cy="241" r="0.5" fill="#e98ccf"/><circle cx="346.5" cy="244" r="0.5" fill="#ee8357"/><circle cx="336" cy="263" r="0.5" fill="#ebdc3a"/></g>
<path d="M323.5,225 L331.3,219.2" stroke="#bcb4e4" stroke-width="0.8"/>
<circle cx="340.6" cy="237.8" r="0.6" fill="#bcb4e4"/>
<rect x="605.8" y="170.7" width="41.0" height="82.9" fill="none" stroke="#666" stroke-width="1"/>
<text font-size="9.46" fill="#222" transform="translate(612.4,167) scale(0.92,1)">MZT2B</text>
<text font-size="9.46" fill="#222" text-anchor="end" transform="translate(602,178.6) scale(0.92,1)">CXCL1 Cancer</text>
<line x1="603.8" y1="177.2" x2="605.8" y2="177.2" stroke="#555" stroke-width="0.7"/>
<text font-size="9.46" fill="#e0413a" text-anchor="end" transform="translate(602,190.2) scale(0.92,1)">Proliferating Cancer</text>
<line x1="603.8" y1="188.8" x2="605.8" y2="188.8" stroke="#555" stroke-width="0.7"/>
<text font-size="9.46" fill="#222" text-anchor="end" transform="translate(602,201.8) scale(0.92,1)">SOX2 Cancer</text>
<line x1="603.8" y1="200.4" x2="605.8" y2="200.4" stroke="#555" stroke-width="0.7"/>
<text font-size="9.46" fill="#222" text-anchor="end" transform="translate(602,213.4) scale(0.92,1)">CDKN2A Cancer</text>
<line x1="603.8" y1="212.0" x2="605.8" y2="212.0" stroke="#555" stroke-width="0.7"/>
<text font-size="9.46" fill="#222" text-anchor="end" transform="translate(602,225.0) scale(0.92,1)">LAMC2 Cancer</text>
<line x1="603.8" y1="223.6" x2="605.8" y2="223.6" stroke="#555" stroke-width="0.7"/>
<text font-size="9.46" fill="#222" text-anchor="end" transform="translate(602,236.6) scale(0.92,1)">Pathological Alveolar</text>
<line x1="603.8" y1="235.2" x2="605.8" y2="235.2" stroke="#555" stroke-width="0.7"/>
<text font-size="9.46" fill="#222" text-anchor="end" transform="translate(602,248.2) scale(0.92,1)">Alveolar</text>
<line x1="603.8" y1="246.8" x2="605.8" y2="246.8" stroke="#555" stroke-width="0.7"/>
<line x1="617.5" y1="253.6" x2="617.5" y2="255.6" stroke="#555" stroke-width="0.7"/>
<line x1="637" y1="253.6" x2="637" y2="255.6" stroke="#555" stroke-width="0.7"/>
<circle cx="617.5" cy="177.2" r="3.2" fill="#c0cce8"/>
<circle cx="637" cy="177.2" r="1.7" fill="#4a70c0"/>
<circle cx="617.5" cy="188.8" r="4.35" fill="#d9382b"/>
<circle cx="637" cy="188.8" r="4.2" fill="#f2eea2"/>
<circle cx="617.5" cy="200.4" r="4.0" fill="#e47c4c"/>
<circle cx="637" cy="200.4" r="3.3" fill="#f8f8e2"/>
<circle cx="617.5" cy="212.0" r="0.8" fill="#5878c0"/>
<circle cx="637" cy="212.0" r="3.9" fill="#f3f1b6"/>
<circle cx="617.5" cy="223.6" r="1.6" fill="#4a70c0"/>
<circle cx="637" cy="223.6" r="3.6" fill="#f7f8de"/>
<circle cx="617.5" cy="235.2" r="3.5" fill="#d8e0f0"/>
<circle cx="637" cy="235.2" r="0.7" fill="#c0cce8"/>
<circle cx="617.5" cy="246.8" r="2.7" fill="#7090d0"/>
<circle cx="637" cy="246.8" r="1.7" fill="#3a64b8"/>
<text font-size="9.46" fill="#222" text-anchor="end" transform="translate(621.0,260.8) rotate(-45) scale(0.92,1)">LUAD</text>
<text font-size="9.46" fill="#222" text-anchor="end" transform="translate(640.6,260.8) rotate(-45) scale(0.92,1)">LUSC</text>
<text font-size="9.46" fill="#222" transform="translate(653.3,172) scale(0.92,1)">pct.exp</text>
<circle cx="658.1" cy="180.2" r="0.8" fill="#111"/>
<text font-size="9.46" fill="#222" transform="translate(665.2,183.29999999999998) scale(0.92,1)">20</text>
<circle cx="658.1" cy="189.9" r="1.8" fill="#111"/>
<text font-size="9.46" fill="#222" transform="translate(665.2,193.0) scale(0.92,1)">40</text>
<circle cx="658.1" cy="200.5" r="2.7" fill="#111"/>
<text font-size="9.46" fill="#222" transform="translate(665.2,203.6) scale(0.92,1)">60</text>
<text font-size="9.46" fill="#222" transform="translate(653.3,214.8) scale(0.92,1)">avg.exp</text>
<defs><linearGradient id="gF" x1="0" y1="0" x2="0" y2="1"><stop offset="0" stop-color="#d73027"/><stop offset="0.22" stop-color="#f29a58"/><stop offset="0.42" stop-color="#faf2a8"/><stop offset="0.62" stop-color="#ffffff"/><stop offset="1" stop-color="#4a78c0"/></linearGradient></defs>
<rect x="653.3" y="220.5" width="6.4" height="33.5" fill="url(#gF)"/>
<text font-size="9.46" fill="#222" transform="translate(662.9,227.4) scale(0.92,1)">2</text>
<text font-size="9.46" fill="#222" transform="translate(662.9,237.4) scale(0.92,1)">1</text>
<text font-size="9.46" fill="#222" transform="translate(662.9,246.4) scale(0.92,1)">0</text>
<text font-size="9.46" fill="#222" transform="translate(662.9,255.5) scale(0.92,1)">−1</text>
<circle cx="52.4" cy="302.2" r="1.4" fill="#c4c4c4"/>
<text font-size="9.02" fill="#222" transform="translate(60,304.7) scale(0.92,1)">insignificant</text>
<circle cx="107.2" cy="302.2" r="1.35" fill="#d0191b"/>
<text font-size="9.02" fill="#222" transform="translate(114.8,304.7) scale(0.92,1)">upregulated</text>
<path d="M45.3,317 V405.4 H148.6" fill="none" stroke="#333" stroke-width="0.9"/>
<text font-size="9.24" fill="#222" text-anchor="middle" transform="translate(37.4,324.7) scale(0.92,1)">300</text>
<line x1="43.6" y1="321.8" x2="45.3" y2="321.8" stroke="#333" stroke-width="0.7"/>
<text font-size="9.24" fill="#222" text-anchor="middle" transform="translate(37.4,351.1) scale(0.92,1)">200</text>
<line x1="43.6" y1="348.2" x2="45.3" y2="348.2" stroke="#333" stroke-width="0.7"/>
<text font-size="9.24" fill="#222" text-anchor="middle" transform="translate(37.4,377.4) scale(0.92,1)">100</text>
<line x1="43.6" y1="374.5" x2="45.3" y2="374.5" stroke="#333" stroke-width="0.7"/>
<text font-size="9.24" fill="#222" text-anchor="middle" transform="translate(37.4,403.7) scale(0.92,1)">0</text>
<line x1="43.6" y1="400.8" x2="45.3" y2="400.8" stroke="#333" stroke-width="0.7"/>
<text font-size="9.24" fill="#222" text-anchor="middle" transform="translate(57.5,414.2) scale(0.92,1)">0.0</text>
<line x1="57.5" y1="405.4" x2="57.5" y2="407.2" stroke="#333" stroke-width="0.7"/>
<text font-size="9.24" fill="#222" text-anchor="middle" transform="translate(77.1,414.2) scale(0.92,1)">0.1</text>
<line x1="77.1" y1="405.4" x2="77.1" y2="407.2" stroke="#333" stroke-width="0.7"/>
<text font-size="9.24" fill="#222" text-anchor="middle" transform="translate(97.8,414.2) scale(0.92,1)">0.2</text>
<line x1="97.8" y1="405.4" x2="97.8" y2="407.2" stroke="#333" stroke-width="0.7"/>
<text font-size="9.24" fill="#222" text-anchor="middle" transform="translate(118.3,414.2) scale(0.92,1)">0.3</text>
<line x1="118.3" y1="405.4" x2="118.3" y2="407.2" stroke="#333" stroke-width="0.7"/>
<text font-size="9.24" fill="#222" text-anchor="middle" transform="translate(139,414.2) scale(0.92,1)">0.4</text>
<line x1="139" y1="405.4" x2="139" y2="407.2" stroke="#333" stroke-width="0.7"/>
<text font-size="9.13" fill="#222" text-anchor="middle" transform="translate(99.2,419.6) scale(0.92,1)">cor−r</text>
<text font-size="9.35" fill="#222" text-anchor="middle" transform="translate(26.4,354) rotate(-90) scale(0.92,1)">−lg(P−value)</text>
<line x1="45.3" y1="400.8" x2="148.6" y2="400.8" stroke="#333" stroke-width="0.7" stroke-dasharray="1.8,2"/>
<line x1="118.4" y1="317" x2="118.4" y2="405.4" stroke="#333" stroke-width="0.7" stroke-dasharray="1.8,2"/>
<path d="M49.5,398.4 C50.3,398.7 52.7,399.9 54.3,400.3 C55.9,400.7 57.4,400.9 59.0,400.8 C60.6,400.7 61.8,400.7 63.8,399.8 C65.8,398.9 68.5,397.2 70.9,395.5 C73.3,393.8 75.6,392.0 78.0,389.6 C80.4,387.2 82.8,384.4 85.2,381.3 C87.6,378.2 89.9,375.1 92.3,371.3 C94.7,367.5 97.4,362.0 99.4,358.7 C101.4,355.4 102.6,353.8 104.2,351.6 C105.8,349.4 107.3,347.6 108.9,345.6 C110.5,343.6 112.1,341.7 113.7,339.7 C115.3,337.7 117.6,334.8 118.4,333.8" fill="none" stroke="#c4c4c4" stroke-width="1.8"/>
<path d="M118.3,333.8 C118.7,333.1 120.0,330.6 120.7,329.6 C121.5,328.6 122.1,328.4 122.8,327.6 C123.5,326.8 124.2,325.5 125.0,324.6 C125.8,323.7 126.8,322.9 127.8,322.4 C128.8,321.9 129.5,321.6 130.7,321.4 C131.9,321.2 133.9,321.2 135.0,321.1 C136.1,321.0 136.9,320.9 137.3,320.9" fill="none" stroke="#d0191b" stroke-width="1.5" stroke-linecap="round"/>
<path d="M139,320.9 L139.6,320.9 M141.3,320.6 L144.6,320.4" fill="none" stroke="#d0191b" stroke-width="1.5" stroke-linecap="round"/>
<text font-size="9.57" fill="#222" transform="translate(235.9,299.1) scale(0.92,1)">GO_BP enrichment barplot</text>
<path d="M199.5,305.3 V404.6" fill="none" stroke="#666" stroke-width="1"/>
<path d="M199.0,404.6 H379.8" fill="none" stroke="#555" stroke-width="0.9"/>
<rect x="207.7" y="308.8" width="164.9" height="15" fill="#c8466e"/>
<line x1="197.5" y1="316.3" x2="199.5" y2="316.3" stroke="#444" stroke-width="0.7"/>
<text font-size="9.57" fill="#1a1a1a" transform="translate(208.5,318.40000000000003) scale(0.92,1)">Cytoplasmic Translation</text>
<rect x="207.7" y="328.05" width="149.7" height="15" fill="#f0a070"/>
<line x1="197.5" y1="335.55" x2="199.5" y2="335.55" stroke="#444" stroke-width="0.7"/>
<text font-size="9.57" fill="#1a1a1a" transform="translate(208.5,337.65000000000003) scale(0.92,1)">Mitochondrial ATP Synthesis Coupled Electron Transport</text>
<rect x="207.7" y="347.3" width="135.6" height="15" fill="#f1d990"/>
<line x1="197.5" y1="354.8" x2="199.5" y2="354.8" stroke="#444" stroke-width="0.7"/>
<text font-size="9.57" fill="#1a1a1a" transform="translate(208.5,356.90000000000003) scale(0.92,1)">Aerobic Electron Transport Chain</text>
<rect x="207.7" y="366.55" width="135.6" height="15" fill="#f1dc94"/>
<line x1="197.5" y1="374.05" x2="199.5" y2="374.05" stroke="#444" stroke-width="0.7"/>
<text font-size="9.57" fill="#1a1a1a" transform="translate(208.5,376.15000000000003) scale(0.92,1)">Cellular Respiration</text>
<rect x="207.7" y="385.8" width="128.4" height="15" fill="#f7fbd2"/>
<line x1="197.5" y1="393.3" x2="199.5" y2="393.3" stroke="#444" stroke-width="0.7"/>
<text font-size="9.57" fill="#1a1a1a" transform="translate(208.5,395.40000000000003) scale(0.92,1)">Energy Derivation by Oxidation of Organic Compounds</text>
<line x1="207.7" y1="404.6" x2="207.7" y2="406.6" stroke="#444" stroke-width="0.7"/>
<text font-size="9.24" fill="#222" text-anchor="middle" transform="translate(208.7,413.8) scale(0.92,1)">0</text>
<line x1="253.9" y1="404.6" x2="253.9" y2="406.6" stroke="#444" stroke-width="0.7"/>
<text font-size="9.24" fill="#222" text-anchor="middle" transform="translate(254.9,413.8) scale(0.92,1)">5</text>
<line x1="300.1" y1="404.6" x2="300.1" y2="406.6" stroke="#444" stroke-width="0.7"/>
<text font-size="9.24" fill="#222" text-anchor="middle" transform="translate(301.1,413.8) scale(0.92,1)">10</text>
<line x1="346.3" y1="404.6" x2="346.3" y2="406.6" stroke="#444" stroke-width="0.7"/>
<text font-size="9.24" fill="#222" text-anchor="middle" transform="translate(347.3,413.8) scale(0.92,1)">15</text>
<text font-size="9.57" fill="#222" transform="translate(467.7,299.1) scale(0.92,1)">WikiPathways enrichment barplot</text>
<path d="M441.7,305.3 V404.6" fill="none" stroke="#aaa" stroke-width="1"/>
<path d="M441.2,404.6 H623" fill="none" stroke="#555" stroke-width="0.9"/>
<rect x="449.9" y="308.8" width="165.6" height="15" fill="#c8466e"/>
<line x1="439.7" y1="316.3" x2="441.7" y2="316.3" stroke="#444" stroke-width="0.7"/>
<text font-size="9.57" fill="#1a1a1a" transform="translate(450.7,318.40000000000003) scale(0.92,1)">Electron Transport Chain OXPHOS System In Mitochondria</text>
<rect x="449.9" y="328.05" width="153.1" height="15" fill="#da5070"/>
<line x1="439.7" y1="335.55" x2="441.7" y2="335.55" stroke="#444" stroke-width="0.7"/>
<text font-size="9.57" fill="#1a1a1a" transform="translate(450.7,337.65000000000003) scale(0.92,1)">Cytoplasmic Ribosomal Proteins</text>
<rect x="449.9" y="347.3" width="87.3" height="15" fill="#eeb774"/>
<line x1="439.7" y1="354.8" x2="441.7" y2="354.8" stroke="#444" stroke-width="0.7"/>
<text font-size="9.57" fill="#1a1a1a" transform="translate(450.7,356.90000000000003) scale(0.92,1)">Mitochondrial Complex IV Assembly</text>
<rect x="449.9" y="366.55" width="58.6" height="15" fill="#f6eaa4"/>
<line x1="439.7" y1="374.05" x2="441.7" y2="374.05" stroke="#444" stroke-width="0.7"/>
<text font-size="9.57" fill="#1a1a1a" transform="translate(450.7,376.15000000000003) scale(0.92,1)">Oxidative Phosphorylation</text>
<rect x="449.9" y="385.8" width="46.5" height="15" fill="#f7fbd2"/>
<line x1="439.7" y1="393.3" x2="441.7" y2="393.3" stroke="#444" stroke-width="0.7"/>
<text font-size="9.57" fill="#1a1a1a" transform="translate(450.7,395.40000000000003) scale(0.92,1)">NRF2 Pathway</text>
<line x1="449.9" y1="404.6" x2="449.9" y2="406.6" stroke="#444" stroke-width="0.7"/>
<text font-size="9.24" fill="#222" text-anchor="middle" transform="translate(450.9,413.8) scale(0.92,1)">0</text>
<line x1="487.7" y1="404.6" x2="487.7" y2="406.6" stroke="#444" stroke-width="0.7"/>
<text font-size="9.24" fill="#222" text-anchor="middle" transform="translate(488.7,413.8) scale(0.92,1)">5</text>
<line x1="525.5" y1="404.6" x2="525.5" y2="406.6" stroke="#444" stroke-width="0.7"/>
<text font-size="9.24" fill="#222" text-anchor="middle" transform="translate(526.5,413.8) scale(0.92,1)">10</text>
<line x1="563.3" y1="404.6" x2="563.3" y2="406.6" stroke="#444" stroke-width="0.7"/>
<text font-size="9.24" fill="#222" text-anchor="middle" transform="translate(564.3,413.8) scale(0.92,1)">15</text>
<line x1="601.1" y1="404.6" x2="601.1" y2="406.6" stroke="#444" stroke-width="0.7"/>
<text font-size="9.24" fill="#222" text-anchor="middle" transform="translate(602.1,413.8) scale(0.92,1)">20</text>
<text transform="translate(1,12) scale(0.96,1)" font-size="15.8" font-weight="bold" fill="#1a1414">A.</text>
<text transform="translate(233,11.8) scale(0.96,1)" font-size="15.8" font-weight="bold" fill="#1a1414">B.</text>
<text transform="translate(466,12) scale(0.96,1)" font-size="15.8" font-weight="bold" fill="#1a1414">C.</text>
<text transform="translate(0.7,174) scale(0.96,1)" font-size="15.8" font-weight="bold" fill="#1a1414">D.</text>
<text transform="translate(175.6,174.1) scale(0.96,1)" font-size="15.8" font-weight="bold" fill="#1a1414">E.</text>
<text transform="translate(477.8,174) scale(0.96,1)" font-size="15.8" font-weight="bold" fill="#1a1414">F.</text>
<text transform="translate(1,299.8) scale(0.96,1)" font-size="15.8" font-weight="bold" fill="#1a1414">G.</text>
<text transform="translate(180.7,300) scale(0.96,1)" font-size="15.8" font-weight="bold" fill="#1a1414">H.</text>
<text transform="translate(422.8,299.8) scale(0.96,1)" font-size="15.8" font-weight="bold" fill="#1a1414">I.</text>
</svg></body></html>
